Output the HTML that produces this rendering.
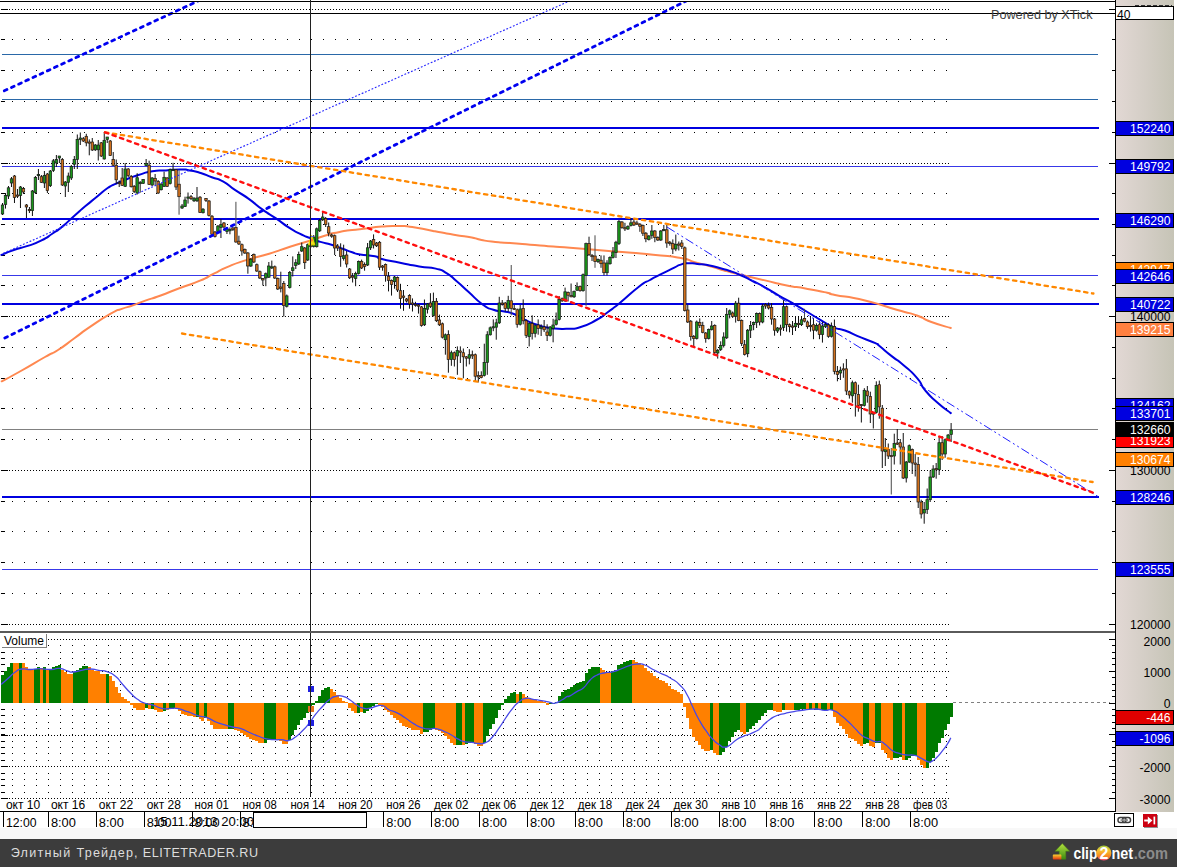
<!DOCTYPE html>
<html><head><meta charset="utf-8"><title>chart</title>
<style>
html,body{margin:0;padding:0;background:#fff;}
body{width:1177px;height:867px;overflow:hidden;font-family:"Liberation Sans",sans-serif;}
svg{display:block;}
text{font-family:"Liberation Sans",sans-serif;}
</style></head><body>
<svg width="1177" height="867" viewBox="0 0 1177 867" shape-rendering="crispEdges">
<rect x="0" y="0" width="1177" height="867" fill="#ffffff"/>
<line x1="12" y1="39.5" x2="951" y2="39.5" stroke="#000" stroke-width="1" stroke-dasharray="1 10.97"/>
<line x1="12" y1="70.5" x2="951" y2="70.5" stroke="#000" stroke-width="1" stroke-dasharray="1 10.97"/>
<line x1="12" y1="101.5" x2="951" y2="101.5" stroke="#000" stroke-width="1" stroke-dasharray="1 10.97"/>
<line x1="12" y1="132.5" x2="951" y2="132.5" stroke="#000" stroke-width="1" stroke-dasharray="1 10.97"/>
<line x1="12" y1="193.5" x2="951" y2="193.5" stroke="#000" stroke-width="1" stroke-dasharray="1 10.97"/>
<line x1="12" y1="224.5" x2="951" y2="224.5" stroke="#000" stroke-width="1" stroke-dasharray="1 10.97"/>
<line x1="12" y1="255.5" x2="951" y2="255.5" stroke="#000" stroke-width="1" stroke-dasharray="1 10.97"/>
<line x1="12" y1="285.5" x2="951" y2="285.5" stroke="#000" stroke-width="1" stroke-dasharray="1 10.97"/>
<line x1="12" y1="347.5" x2="951" y2="347.5" stroke="#000" stroke-width="1" stroke-dasharray="1 10.97"/>
<line x1="12" y1="378.5" x2="951" y2="378.5" stroke="#000" stroke-width="1" stroke-dasharray="1 10.97"/>
<line x1="12" y1="408.5" x2="951" y2="408.5" stroke="#000" stroke-width="1" stroke-dasharray="1 10.97"/>
<line x1="12" y1="439.5" x2="951" y2="439.5" stroke="#000" stroke-width="1" stroke-dasharray="1 10.97"/>
<line x1="12" y1="501.5" x2="951" y2="501.5" stroke="#000" stroke-width="1" stroke-dasharray="1 10.97"/>
<line x1="12" y1="531.5" x2="951" y2="531.5" stroke="#000" stroke-width="1" stroke-dasharray="1 10.97"/>
<line x1="12" y1="562.5" x2="951" y2="562.5" stroke="#000" stroke-width="1" stroke-dasharray="1 10.97"/>
<line x1="12" y1="593.5" x2="951" y2="593.5" stroke="#000" stroke-width="1" stroke-dasharray="1 10.97"/>
<line x1="9" y1="9.5" x2="951" y2="9.5" stroke="#000" stroke-width="1" stroke-dasharray="1 2"/>
<line x1="9" y1="163.5" x2="951" y2="163.5" stroke="#000" stroke-width="1" stroke-dasharray="1 2"/>
<line x1="9" y1="316.5" x2="951" y2="316.5" stroke="#000" stroke-width="1" stroke-dasharray="1 2"/>
<line x1="9" y1="470.5" x2="951" y2="470.5" stroke="#000" stroke-width="1" stroke-dasharray="1 2"/>
<line x1="9" y1="624.5" x2="951" y2="624.5" stroke="#000" stroke-width="1" stroke-dasharray="1 2"/>
<rect x="1" y="39" width="4" height="1" fill="#000"/>
<rect x="1" y="70" width="4" height="1" fill="#000"/>
<rect x="1" y="101" width="4" height="1" fill="#000"/>
<rect x="1" y="132" width="4" height="1" fill="#000"/>
<rect x="1" y="193" width="4" height="1" fill="#000"/>
<rect x="1" y="224" width="4" height="1" fill="#000"/>
<rect x="1" y="255" width="4" height="1" fill="#000"/>
<rect x="1" y="285" width="4" height="1" fill="#000"/>
<rect x="1" y="347" width="4" height="1" fill="#000"/>
<rect x="1" y="378" width="4" height="1" fill="#000"/>
<rect x="1" y="408" width="4" height="1" fill="#000"/>
<rect x="1" y="439" width="4" height="1" fill="#000"/>
<rect x="1" y="501" width="4" height="1" fill="#000"/>
<rect x="1" y="531" width="4" height="1" fill="#000"/>
<rect x="1" y="562" width="4" height="1" fill="#000"/>
<rect x="1" y="593" width="4" height="1" fill="#000"/>
<rect x="1" y="9" width="7" height="1" fill="#000"/>
<rect x="1" y="163" width="7" height="1" fill="#000"/>
<rect x="1" y="316" width="7" height="1" fill="#000"/>
<rect x="1" y="470" width="7" height="1" fill="#000"/>
<rect x="1" y="624" width="7" height="1" fill="#000"/>
<line x1="12" y1="645.5" x2="951" y2="645.5" stroke="#000" stroke-width="1" stroke-dasharray="1 10.97"/>
<rect x="1" y="645" width="4" height="1" fill="#000"/>
<line x1="12" y1="652.5" x2="951" y2="652.5" stroke="#000" stroke-width="1" stroke-dasharray="1 10.97"/>
<rect x="1" y="652" width="4" height="1" fill="#000"/>
<line x1="12" y1="658.5" x2="951" y2="658.5" stroke="#000" stroke-width="1" stroke-dasharray="1 10.97"/>
<rect x="1" y="658" width="4" height="1" fill="#000"/>
<line x1="12" y1="664.5" x2="951" y2="664.5" stroke="#000" stroke-width="1" stroke-dasharray="1 10.97"/>
<rect x="1" y="664" width="4" height="1" fill="#000"/>
<line x1="12" y1="677.5" x2="951" y2="677.5" stroke="#000" stroke-width="1" stroke-dasharray="1 10.97"/>
<rect x="1" y="677" width="4" height="1" fill="#000"/>
<line x1="12" y1="684.5" x2="951" y2="684.5" stroke="#000" stroke-width="1" stroke-dasharray="1 10.97"/>
<rect x="1" y="684" width="4" height="1" fill="#000"/>
<line x1="12" y1="690.5" x2="951" y2="690.5" stroke="#000" stroke-width="1" stroke-dasharray="1 10.97"/>
<rect x="1" y="690" width="4" height="1" fill="#000"/>
<line x1="12" y1="696.5" x2="951" y2="696.5" stroke="#000" stroke-width="1" stroke-dasharray="1 10.97"/>
<rect x="1" y="696" width="4" height="1" fill="#000"/>
<line x1="12" y1="709.5" x2="951" y2="709.5" stroke="#000" stroke-width="1" stroke-dasharray="1 10.97"/>
<rect x="1" y="709" width="4" height="1" fill="#000"/>
<line x1="12" y1="715.5" x2="951" y2="715.5" stroke="#000" stroke-width="1" stroke-dasharray="1 10.97"/>
<rect x="1" y="715" width="4" height="1" fill="#000"/>
<line x1="12" y1="722.5" x2="951" y2="722.5" stroke="#000" stroke-width="1" stroke-dasharray="1 10.97"/>
<rect x="1" y="722" width="4" height="1" fill="#000"/>
<line x1="12" y1="728.5" x2="951" y2="728.5" stroke="#000" stroke-width="1" stroke-dasharray="1 10.97"/>
<rect x="1" y="728" width="4" height="1" fill="#000"/>
<line x1="12" y1="734.5" x2="951" y2="734.5" stroke="#000" stroke-width="1" stroke-dasharray="1 10.97"/>
<rect x="1" y="734" width="4" height="1" fill="#000"/>
<line x1="12" y1="741.5" x2="951" y2="741.5" stroke="#000" stroke-width="1" stroke-dasharray="1 10.97"/>
<rect x="1" y="741" width="4" height="1" fill="#000"/>
<line x1="12" y1="747.5" x2="951" y2="747.5" stroke="#000" stroke-width="1" stroke-dasharray="1 10.97"/>
<rect x="1" y="747" width="4" height="1" fill="#000"/>
<line x1="12" y1="753.5" x2="951" y2="753.5" stroke="#000" stroke-width="1" stroke-dasharray="1 10.97"/>
<rect x="1" y="753" width="4" height="1" fill="#000"/>
<line x1="12" y1="760.5" x2="951" y2="760.5" stroke="#000" stroke-width="1" stroke-dasharray="1 10.97"/>
<rect x="1" y="760" width="4" height="1" fill="#000"/>
<line x1="12" y1="773.5" x2="951" y2="773.5" stroke="#000" stroke-width="1" stroke-dasharray="1 10.97"/>
<rect x="1" y="773" width="4" height="1" fill="#000"/>
<line x1="12" y1="779.5" x2="951" y2="779.5" stroke="#000" stroke-width="1" stroke-dasharray="1 10.97"/>
<rect x="1" y="779" width="4" height="1" fill="#000"/>
<line x1="12" y1="785.5" x2="951" y2="785.5" stroke="#000" stroke-width="1" stroke-dasharray="1 10.97"/>
<rect x="1" y="785" width="4" height="1" fill="#000"/>
<line x1="12" y1="792.5" x2="951" y2="792.5" stroke="#000" stroke-width="1" stroke-dasharray="1 10.97"/>
<rect x="1" y="792" width="4" height="1" fill="#000"/>
<line x1="9" y1="639.5" x2="951" y2="639.5" stroke="#000" stroke-width="1" stroke-dasharray="1 2"/>
<rect x="1" y="639" width="7" height="1" fill="#000"/>
<line x1="9" y1="671.5" x2="951" y2="671.5" stroke="#000" stroke-width="1" stroke-dasharray="1 2"/>
<rect x="1" y="671" width="7" height="1" fill="#000"/>
<line x1="9" y1="735.5" x2="951" y2="735.5" stroke="#000" stroke-width="1" stroke-dasharray="1 2"/>
<rect x="1" y="735" width="7" height="1" fill="#000"/>
<line x1="9" y1="766.5" x2="951" y2="766.5" stroke="#000" stroke-width="1" stroke-dasharray="1 2"/>
<rect x="1" y="766" width="7" height="1" fill="#000"/>
<line x1="9" y1="798.5" x2="951" y2="798.5" stroke="#000" stroke-width="1" stroke-dasharray="1 2"/>
<rect x="1" y="798" width="7" height="1" fill="#000"/>
<rect x="2" y="54" width="1096" height="1" fill="#2a68a8"/>
<rect x="2" y="99" width="1096" height="1" fill="#2a68a8"/>
<rect x="2" y="127" width="1097" height="2" fill="#0000e0"/>
<rect x="2" y="166" width="1096" height="1" fill="#3838e8"/>
<rect x="2" y="218" width="1097" height="2" fill="#0000e0"/>
<rect x="2" y="275" width="1096" height="1" fill="#3838e8"/>
<rect x="2" y="303" width="1097" height="2" fill="#0000e0"/>
<rect x="2" y="429" width="1096" height="1" fill="#808080"/>
<rect x="2" y="496" width="1097" height="2" fill="#0000e0"/>
<rect x="2" y="569" width="1096" height="1" fill="#3838e8"/>
<path d="M1.7 381.3 C8.1 377.9 6.4 379.1 20.8 371.0 C35.2 362.9 32.6 364.0 45.0 357.0 C57.4 350.0 48.1 356.3 58.0 350.0 C67.9 343.7 64.0 345.7 74.7 338.0 C85.4 330.3 78.0 335.0 90.0 326.9 C102.0 318.8 100.1 319.7 110.7 313.7 C121.3 307.7 114.4 311.7 121.8 308.9 C129.2 306.1 125.1 308.2 132.9 305.4 C140.7 302.6 136.3 303.8 145.3 300.6 C154.3 297.4 148.4 299.9 160.0 295.7 C171.6 291.5 166.7 293.0 180.0 288.0 C193.3 283.0 188.7 285.5 200.0 280.7 C211.3 275.9 204.6 278.3 213.8 273.7 C223.0 269.1 216.6 271.4 227.7 266.8 C238.8 262.2 233.2 264.3 247.0 259.9 C260.8 255.5 254.9 258.1 269.2 253.7 C283.5 249.3 276.2 251.1 290.0 246.7 C303.8 242.3 299.2 244.2 310.7 240.5 C322.2 236.8 315.4 238.5 324.6 235.7 C333.8 232.9 329.2 234.1 338.4 232.2 C347.6 230.3 343.7 231.1 352.2 230.0 C360.7 228.9 353.9 229.9 363.8 228.8 C373.7 227.7 370.3 227.5 381.8 226.6 C393.3 225.7 388.2 225.9 398.4 226.0 C408.6 226.1 400.8 225.3 412.3 227.0 C423.8 228.7 419.2 228.4 433.0 231.0 C446.8 233.6 440.9 232.5 453.8 234.7 C466.7 236.9 462.6 235.7 471.8 237.5 C481.0 239.3 473.7 238.5 481.5 240.0 C489.3 241.5 485.8 241.0 495.3 242.0 C504.8 243.0 495.1 241.8 510.0 243.0 C524.9 244.2 520.0 244.0 540.0 245.6 C560.0 247.2 546.2 245.9 570.0 247.8 C593.8 249.7 583.8 248.9 611.5 251.2 C639.2 253.5 629.9 252.4 653.0 254.7 C676.1 257.0 666.8 255.5 680.7 258.0 C694.6 260.5 685.4 259.7 694.6 262.3 C703.8 264.9 699.2 263.1 708.4 265.7 C717.6 268.3 715.0 267.9 722.2 270.0 C729.4 272.1 722.7 270.2 730.0 272.0 C737.3 273.8 732.5 272.7 744.2 275.5 C755.9 278.3 751.2 277.2 765.0 280.4 C778.8 283.6 771.9 282.4 785.7 285.2 C799.5 288.0 792.7 286.2 806.5 288.7 C820.3 291.2 817.7 290.7 827.2 292.8 C836.7 294.9 822.4 292.4 835.0 295.0 C847.6 297.6 844.2 295.5 865.0 300.5 C885.8 305.5 880.2 305.0 897.5 310.0 C914.8 315.0 905.8 311.6 916.9 315.5 C928.0 319.4 919.4 317.6 930.7 321.8 C942.0 326.0 944.1 325.9 950.8 328.0" fill="none" stroke="#ff8850" stroke-width="2.0" stroke-linejoin="round" stroke-linecap="round" style="shape-rendering:auto"/>
<path d="M1.4 254.9 C5.5 253.3 5.0 253.0 13.8 250.0 C22.6 247.0 18.5 249.1 27.7 245.9 C36.9 242.7 33.2 244.5 41.5 240.4 C49.8 236.3 45.7 238.1 52.6 233.5 C59.5 228.9 54.9 232.6 62.3 226.6 C69.7 220.6 66.9 222.4 74.7 215.5 C82.5 208.6 78.4 212.0 85.8 205.8 C93.2 199.6 89.5 202.8 96.9 196.8 C104.3 190.8 102.0 192.0 108.0 187.8 C114.0 183.6 109.4 186.8 114.9 184.2 C120.4 181.6 116.8 183.1 124.6 180.0 C132.4 176.9 129.2 177.9 138.4 175.0 C147.6 172.1 143.1 172.8 152.3 171.3 C161.5 169.8 156.8 171.0 166.0 170.4 C175.2 169.8 172.1 169.4 180.0 169.4 C187.9 169.4 182.8 169.2 189.7 170.4 C196.6 171.6 193.3 170.7 200.7 173.0 C208.1 175.3 204.4 174.5 211.8 177.3 C219.2 180.1 215.1 177.1 222.9 181.4 C230.7 185.7 226.8 184.5 235.3 190.2 C243.8 195.9 239.4 192.2 248.4 198.6 C257.4 205.0 253.1 202.8 262.3 209.4 C271.5 216.0 267.2 212.4 276.0 218.4 C284.8 224.4 280.7 222.3 288.6 227.4 C296.5 232.5 292.3 229.9 299.7 233.6 C307.1 237.3 303.8 235.6 310.7 238.4 C317.6 241.2 313.5 239.8 320.4 241.9 C327.3 244.0 324.1 242.4 331.5 244.7 C338.9 247.0 335.7 246.3 342.6 248.8 C349.5 251.3 346.4 250.4 352.2 252.3 C358.0 254.2 352.4 253.1 360.0 254.4 C367.6 255.7 367.7 254.8 375.0 256.3 C382.3 257.8 373.5 256.8 381.8 259.0 C390.1 261.2 387.5 260.3 400.0 262.8 C412.5 265.3 407.3 264.6 419.2 266.5 C431.1 268.4 426.6 266.3 435.8 268.6 C445.0 270.9 439.8 269.1 446.9 273.4 C454.0 277.7 449.8 275.4 457.0 281.5 C464.2 287.6 460.0 284.2 468.4 291.8 C476.8 299.4 474.0 298.2 482.3 304.2 C490.6 310.2 486.5 307.4 493.4 309.8 C500.3 312.2 496.1 309.9 503.0 311.3 C509.9 312.7 506.6 311.1 514.0 314.0 C521.4 316.9 517.3 316.3 525.2 320.0 C533.1 323.7 529.8 322.4 537.6 325.0 C545.4 327.6 541.8 326.6 548.7 327.8 C555.6 329.0 552.0 328.4 558.4 328.7 C564.8 329.0 560.8 329.2 568.0 328.7 C575.2 328.2 570.6 330.2 580.0 327.3 C589.4 324.4 587.0 325.1 596.3 320.0 C605.6 314.9 600.2 317.7 608.0 312.0 C615.8 306.3 609.4 311.5 619.8 303.0 C630.2 294.5 629.1 294.2 639.2 286.5 C649.3 278.8 643.1 283.9 650.0 280.0 C656.9 276.1 652.1 278.8 660.0 274.7 C667.9 270.6 666.9 271.2 673.8 267.8 C680.7 264.4 676.1 266.1 680.7 264.6 C685.3 263.1 682.1 263.4 687.6 263.2 C693.1 263.0 690.4 263.3 697.3 264.0 C704.2 264.7 700.1 263.7 708.4 265.3 C716.7 266.9 715.0 266.9 722.2 268.8 C729.4 270.7 723.6 268.8 730.0 271.0 C736.4 273.2 733.9 272.2 741.4 275.5 C748.9 278.8 744.6 277.1 752.5 281.0 C760.4 284.9 756.2 282.4 765.0 287.3 C773.8 292.2 769.6 290.3 778.8 295.6 C788.0 300.9 783.4 297.9 792.6 303.2 C801.8 308.5 797.3 306.0 806.5 311.5 C815.7 317.0 811.2 314.5 820.3 319.8 C829.4 325.1 825.6 323.7 833.8 327.3 C842.0 330.9 835.8 327.0 845.0 330.5 C854.2 334.0 851.4 333.5 861.5 337.7 C871.6 341.9 869.4 340.4 875.4 343.2 C881.4 346.0 874.0 341.6 879.5 346.0 C885.0 350.4 884.2 350.2 892.0 356.4 C899.8 362.6 894.7 357.6 903.0 364.7 C911.3 371.8 909.5 369.3 916.9 377.8 C924.3 386.3 918.3 382.0 925.2 390.3 C932.1 398.6 929.1 395.1 937.6 402.7 C946.1 410.3 946.4 409.6 950.8 413.1" fill="none" stroke="#0000e0" stroke-width="2.0" stroke-linejoin="round" stroke-linecap="round" style="shape-rendering:auto"/>
<g style="shape-rendering:auto">
<line x1="2.50" y1="203.0" x2="2.50" y2="215.0" stroke="#101010" stroke-width="1"/>
<rect x="1.25" y="205.0" width="2.5" height="9.0" fill="#1a961a" stroke="#181818" stroke-width="0.7"/>
<line x1="5.49" y1="193.0" x2="5.49" y2="208.6" stroke="#101010" stroke-width="1"/>
<rect x="4.24" y="195.4" width="2.5" height="9.0" fill="#1a961a" stroke="#181818" stroke-width="0.7"/>
<line x1="8.48" y1="186.0" x2="8.48" y2="199.0" stroke="#101010" stroke-width="1"/>
<rect x="7.23" y="187.8" width="2.5" height="8.2" fill="#1a961a" stroke="#181818" stroke-width="0.7"/>
<line x1="11.48" y1="177.0" x2="11.48" y2="187.0" stroke="#101010" stroke-width="1"/>
<rect x="10.23" y="178.8" width="2.5" height="4.2" fill="#1a961a" stroke="#181818" stroke-width="0.7"/>
<line x1="14.47" y1="175.0" x2="14.47" y2="203.0" stroke="#101010" stroke-width="1"/>
<rect x="13.22" y="176.0" width="2.5" height="21.5" fill="#d0701c" stroke="#181818" stroke-width="0.7"/>
<line x1="17.46" y1="189.0" x2="17.46" y2="198.0" stroke="#101010" stroke-width="1"/>
<rect x="16.21" y="195.0" width="2.5" height="1.2" fill="#d0701c" stroke="#181818" stroke-width="0.7"/>
<line x1="20.46" y1="186.0" x2="20.46" y2="208.0" stroke="#101010" stroke-width="1"/>
<rect x="19.21" y="187.0" width="2.5" height="8.4" fill="#1a961a" stroke="#181818" stroke-width="0.7"/>
<line x1="23.45" y1="187.0" x2="23.45" y2="194.0" stroke="#101010" stroke-width="1"/>
<rect x="22.20" y="188.5" width="2.5" height="3.5" fill="#d0701c" stroke="#181818" stroke-width="0.7"/>
<line x1="26.44" y1="204.0" x2="26.44" y2="218.0" stroke="#101010" stroke-width="1"/>
<rect x="25.19" y="205.0" width="2.5" height="2.0" fill="#d0701c" stroke="#181818" stroke-width="0.7"/>
<line x1="29.43" y1="207.0" x2="29.43" y2="213.0" stroke="#101010" stroke-width="1"/>
<rect x="28.18" y="209.5" width="2.5" height="1.2" fill="#d0701c" stroke="#181818" stroke-width="0.7"/>
<line x1="32.42" y1="190.0" x2="32.42" y2="216.0" stroke="#101010" stroke-width="1"/>
<rect x="31.17" y="191.0" width="2.5" height="19.6" fill="#1a961a" stroke="#181818" stroke-width="0.7"/>
<line x1="35.42" y1="176.0" x2="35.42" y2="194.0" stroke="#101010" stroke-width="1"/>
<rect x="34.17" y="177.4" width="2.5" height="15.2" fill="#1a961a" stroke="#181818" stroke-width="0.7"/>
<line x1="38.41" y1="169.0" x2="38.41" y2="180.0" stroke="#101010" stroke-width="1"/>
<rect x="37.16" y="174.5" width="2.5" height="1.2" fill="#1a961a" stroke="#181818" stroke-width="0.7"/>
<line x1="41.40" y1="175.0" x2="41.40" y2="183.0" stroke="#101010" stroke-width="1"/>
<rect x="40.15" y="176.7" width="2.5" height="5.6" fill="#d0701c" stroke="#181818" stroke-width="0.7"/>
<line x1="44.40" y1="171.0" x2="44.40" y2="188.0" stroke="#101010" stroke-width="1"/>
<rect x="43.15" y="175.4" width="2.5" height="7.6" fill="#1a961a" stroke="#181818" stroke-width="0.7"/>
<line x1="47.39" y1="173.0" x2="47.39" y2="193.0" stroke="#101010" stroke-width="1"/>
<rect x="46.14" y="174.0" width="2.5" height="16.6" fill="#d0701c" stroke="#181818" stroke-width="0.7"/>
<line x1="50.38" y1="170.0" x2="50.38" y2="187.0" stroke="#101010" stroke-width="1"/>
<rect x="49.13" y="171.0" width="2.5" height="14.7" fill="#1a961a" stroke="#181818" stroke-width="0.7"/>
<line x1="53.37" y1="159.0" x2="53.37" y2="172.0" stroke="#101010" stroke-width="1"/>
<rect x="52.12" y="160.8" width="2.5" height="9.7" fill="#1a961a" stroke="#181818" stroke-width="0.7"/>
<line x1="56.37" y1="155.0" x2="56.37" y2="167.0" stroke="#101010" stroke-width="1"/>
<rect x="55.12" y="159.4" width="2.5" height="3.6" fill="#1a961a" stroke="#181818" stroke-width="0.7"/>
<line x1="59.36" y1="156.0" x2="59.36" y2="163.0" stroke="#101010" stroke-width="1"/>
<rect x="58.11" y="156.0" width="2.5" height="2.0" fill="#1a961a" stroke="#181818" stroke-width="0.7"/>
<line x1="62.35" y1="158.0" x2="62.35" y2="186.0" stroke="#101010" stroke-width="1"/>
<rect x="61.10" y="159.4" width="2.5" height="25.6" fill="#d0701c" stroke="#181818" stroke-width="0.7"/>
<line x1="65.34" y1="181.0" x2="65.34" y2="197.0" stroke="#101010" stroke-width="1"/>
<rect x="64.09" y="182.0" width="2.5" height="4.0" fill="#1a961a" stroke="#181818" stroke-width="0.7"/>
<line x1="68.34" y1="172.6" x2="68.34" y2="192.0" stroke="#101010" stroke-width="1"/>
<rect x="67.09" y="176.0" width="2.5" height="6.3" fill="#1a961a" stroke="#181818" stroke-width="0.7"/>
<line x1="71.33" y1="165.0" x2="71.33" y2="180.0" stroke="#101010" stroke-width="1"/>
<rect x="70.08" y="166.4" width="2.5" height="11.6" fill="#1a961a" stroke="#181818" stroke-width="0.7"/>
<line x1="74.32" y1="156.0" x2="74.32" y2="169.0" stroke="#101010" stroke-width="1"/>
<rect x="73.07" y="159.4" width="2.5" height="4.9" fill="#1a961a" stroke="#181818" stroke-width="0.7"/>
<line x1="77.31" y1="134.5" x2="77.31" y2="169.0" stroke="#101010" stroke-width="1"/>
<rect x="76.06" y="139.4" width="2.5" height="20.0" fill="#1a961a" stroke="#181818" stroke-width="0.7"/>
<line x1="80.31" y1="132.5" x2="80.31" y2="145.0" stroke="#101010" stroke-width="1"/>
<rect x="79.06" y="138.0" width="2.5" height="1.5" fill="#1a961a" stroke="#181818" stroke-width="0.7"/>
<line x1="83.30" y1="137.0" x2="83.30" y2="142.0" stroke="#101010" stroke-width="1"/>
<rect x="82.05" y="138.7" width="2.5" height="2.3" fill="#d0701c" stroke="#181818" stroke-width="0.7"/>
<line x1="86.29" y1="133.8" x2="86.29" y2="146.3" stroke="#101010" stroke-width="1"/>
<rect x="85.04" y="136.3" width="2.5" height="6.5" fill="#d0701c" stroke="#181818" stroke-width="0.7"/>
<line x1="89.28" y1="139.4" x2="89.28" y2="155.3" stroke="#101010" stroke-width="1"/>
<rect x="88.03" y="142.0" width="2.5" height="1.2" fill="#d0701c" stroke="#181818" stroke-width="0.7"/>
<line x1="92.28" y1="138.0" x2="92.28" y2="151.0" stroke="#101010" stroke-width="1"/>
<rect x="91.03" y="142.0" width="2.5" height="8.0" fill="#d0701c" stroke="#181818" stroke-width="0.7"/>
<line x1="95.27" y1="144.0" x2="95.27" y2="151.0" stroke="#101010" stroke-width="1"/>
<rect x="94.02" y="145.0" width="2.5" height="4.8" fill="#1a961a" stroke="#181818" stroke-width="0.7"/>
<line x1="98.26" y1="140.0" x2="98.26" y2="160.5" stroke="#101010" stroke-width="1"/>
<rect x="97.01" y="145.0" width="2.5" height="4.8" fill="#1a961a" stroke="#181818" stroke-width="0.7"/>
<line x1="101.25" y1="142.0" x2="101.25" y2="157.0" stroke="#101010" stroke-width="1"/>
<rect x="100.00" y="142.8" width="2.5" height="13.2" fill="#d0701c" stroke="#181818" stroke-width="0.7"/>
<line x1="104.25" y1="132.0" x2="104.25" y2="159.5" stroke="#101010" stroke-width="1"/>
<rect x="103.00" y="140.3" width="2.5" height="18.7" fill="#1a961a" stroke="#181818" stroke-width="0.7"/>
<line x1="107.24" y1="137.0" x2="107.24" y2="143.0" stroke="#101010" stroke-width="1"/>
<rect x="105.99" y="137.0" width="2.5" height="2.5" fill="#1a961a" stroke="#181818" stroke-width="0.7"/>
<line x1="110.23" y1="140.0" x2="110.23" y2="156.0" stroke="#101010" stroke-width="1"/>
<rect x="108.98" y="141.0" width="2.5" height="14.5" fill="#d0701c" stroke="#181818" stroke-width="0.7"/>
<line x1="113.22" y1="152.0" x2="113.22" y2="166.0" stroke="#101010" stroke-width="1"/>
<rect x="111.97" y="159.4" width="2.5" height="5.9" fill="#d0701c" stroke="#181818" stroke-width="0.7"/>
<line x1="116.22" y1="159.5" x2="116.22" y2="184.0" stroke="#101010" stroke-width="1"/>
<rect x="114.97" y="165.3" width="2.5" height="14.5" fill="#d0701c" stroke="#181818" stroke-width="0.7"/>
<line x1="119.21" y1="180.5" x2="119.21" y2="187.0" stroke="#101010" stroke-width="1"/>
<rect x="117.96" y="182.5" width="2.5" height="1.2" fill="#d0701c" stroke="#181818" stroke-width="0.7"/>
<line x1="122.20" y1="168.0" x2="122.20" y2="186.0" stroke="#101010" stroke-width="1"/>
<rect x="120.95" y="178.0" width="2.5" height="7.3" fill="#d0701c" stroke="#181818" stroke-width="0.7"/>
<line x1="125.19" y1="163.0" x2="125.19" y2="187.0" stroke="#101010" stroke-width="1"/>
<rect x="123.94" y="169.0" width="2.5" height="17.3" fill="#1a961a" stroke="#181818" stroke-width="0.7"/>
<line x1="128.19" y1="168.0" x2="128.19" y2="177.0" stroke="#101010" stroke-width="1"/>
<rect x="126.94" y="169.0" width="2.5" height="6.6" fill="#d0701c" stroke="#181818" stroke-width="0.7"/>
<line x1="131.18" y1="175.0" x2="131.18" y2="187.5" stroke="#101010" stroke-width="1"/>
<rect x="129.93" y="176.3" width="2.5" height="10.4" fill="#d0701c" stroke="#181818" stroke-width="0.7"/>
<line x1="134.17" y1="185.0" x2="134.17" y2="193.0" stroke="#101010" stroke-width="1"/>
<rect x="132.92" y="186.3" width="2.5" height="5.2" fill="#d0701c" stroke="#181818" stroke-width="0.7"/>
<line x1="137.16" y1="173.2" x2="137.16" y2="194.5" stroke="#101010" stroke-width="1"/>
<rect x="135.91" y="177.7" width="2.5" height="15.3" fill="#1a961a" stroke="#181818" stroke-width="0.7"/>
<line x1="140.16" y1="181.0" x2="140.16" y2="192.7" stroke="#101010" stroke-width="1"/>
<rect x="138.91" y="182.5" width="2.5" height="1.2" fill="#1a961a" stroke="#181818" stroke-width="0.7"/>
<line x1="143.15" y1="179.0" x2="143.15" y2="184.0" stroke="#101010" stroke-width="1"/>
<rect x="141.90" y="179.5" width="2.5" height="3.8" fill="#1a961a" stroke="#181818" stroke-width="0.7"/>
<line x1="146.14" y1="159.0" x2="146.14" y2="166.0" stroke="#101010" stroke-width="1"/>
<rect x="144.89" y="163.5" width="2.5" height="2.0" fill="#1a961a" stroke="#181818" stroke-width="0.7"/>
<line x1="149.13" y1="160.7" x2="149.13" y2="185.0" stroke="#101010" stroke-width="1"/>
<rect x="147.88" y="165.2" width="2.5" height="19.1" fill="#d0701c" stroke="#181818" stroke-width="0.7"/>
<line x1="152.12" y1="177.0" x2="152.12" y2="186.0" stroke="#101010" stroke-width="1"/>
<rect x="150.88" y="178.0" width="2.5" height="7.0" fill="#1a961a" stroke="#181818" stroke-width="0.7"/>
<line x1="155.12" y1="174.0" x2="155.12" y2="185.6" stroke="#101010" stroke-width="1"/>
<rect x="153.87" y="178.5" width="2.5" height="2.5" fill="#d0701c" stroke="#181818" stroke-width="0.7"/>
<line x1="158.11" y1="180.0" x2="158.11" y2="194.0" stroke="#101010" stroke-width="1"/>
<rect x="156.86" y="181.5" width="2.5" height="11.5" fill="#d0701c" stroke="#181818" stroke-width="0.7"/>
<line x1="161.10" y1="183.0" x2="161.10" y2="190.5" stroke="#101010" stroke-width="1"/>
<rect x="159.85" y="184.2" width="2.5" height="5.5" fill="#1a961a" stroke="#181818" stroke-width="0.7"/>
<line x1="164.09" y1="171.7" x2="164.09" y2="187.0" stroke="#101010" stroke-width="1"/>
<rect x="162.84" y="177.3" width="2.5" height="9.0" fill="#1a961a" stroke="#181818" stroke-width="0.7"/>
<line x1="167.09" y1="177.0" x2="167.09" y2="187.0" stroke="#101010" stroke-width="1"/>
<rect x="165.84" y="178.0" width="2.5" height="8.3" fill="#d0701c" stroke="#181818" stroke-width="0.7"/>
<line x1="170.08" y1="168.5" x2="170.08" y2="184.5" stroke="#101010" stroke-width="1"/>
<rect x="168.83" y="169.7" width="2.5" height="13.8" fill="#1a961a" stroke="#181818" stroke-width="0.7"/>
<line x1="173.07" y1="162.8" x2="173.07" y2="171.0" stroke="#101010" stroke-width="1"/>
<rect x="171.82" y="169.5" width="2.5" height="1.2" fill="#1a961a" stroke="#181818" stroke-width="0.7"/>
<line x1="176.06" y1="169.0" x2="176.06" y2="190.0" stroke="#101010" stroke-width="1"/>
<rect x="174.81" y="169.7" width="2.5" height="17.3" fill="#d0701c" stroke="#181818" stroke-width="0.7"/>
<line x1="179.06" y1="170.4" x2="179.06" y2="214.7" stroke="#484848" stroke-width="1"/>
<rect x="177.81" y="184.2" width="2.5" height="12.5" fill="#d0701c" stroke="#181818" stroke-width="0.7"/>
<line x1="182.05" y1="204.0" x2="182.05" y2="209.0" stroke="#101010" stroke-width="1"/>
<rect x="180.80" y="206.0" width="2.5" height="2.0" fill="#1a961a" stroke="#181818" stroke-width="0.7"/>
<line x1="185.04" y1="196.7" x2="185.04" y2="207.0" stroke="#101010" stroke-width="1"/>
<rect x="183.79" y="200.0" width="2.5" height="6.4" fill="#1a961a" stroke="#181818" stroke-width="0.7"/>
<line x1="188.03" y1="192.5" x2="188.03" y2="203.6" stroke="#101010" stroke-width="1"/>
<rect x="186.78" y="197.0" width="2.5" height="1.2" fill="#1a961a" stroke="#181818" stroke-width="0.7"/>
<line x1="191.03" y1="195.0" x2="191.03" y2="200.0" stroke="#101010" stroke-width="1"/>
<rect x="189.78" y="196.7" width="2.5" height="2.0" fill="#d0701c" stroke="#181818" stroke-width="0.7"/>
<line x1="194.02" y1="197.0" x2="194.02" y2="202.0" stroke="#101010" stroke-width="1"/>
<rect x="192.77" y="198.7" width="2.5" height="2.1" fill="#1a961a" stroke="#181818" stroke-width="0.7"/>
<line x1="197.01" y1="187.0" x2="197.01" y2="202.0" stroke="#101010" stroke-width="1"/>
<rect x="195.76" y="198.0" width="2.5" height="2.8" fill="#1a961a" stroke="#181818" stroke-width="0.7"/>
<line x1="200.01" y1="196.0" x2="200.01" y2="213.0" stroke="#101010" stroke-width="1"/>
<rect x="198.76" y="197.2" width="2.5" height="15.3" fill="#d0701c" stroke="#181818" stroke-width="0.7"/>
<line x1="203.00" y1="208.0" x2="203.00" y2="213.5" stroke="#101010" stroke-width="1"/>
<rect x="201.75" y="209.2" width="2.5" height="3.5" fill="#1a961a" stroke="#181818" stroke-width="0.7"/>
<line x1="205.99" y1="198.0" x2="205.99" y2="202.0" stroke="#101010" stroke-width="1"/>
<rect x="204.74" y="198.5" width="2.5" height="2.0" fill="#d0701c" stroke="#181818" stroke-width="0.7"/>
<line x1="208.98" y1="200.0" x2="208.98" y2="216.5" stroke="#101010" stroke-width="1"/>
<rect x="207.73" y="201.0" width="2.5" height="14.6" fill="#d0701c" stroke="#181818" stroke-width="0.7"/>
<line x1="211.98" y1="215.0" x2="211.98" y2="235.0" stroke="#101010" stroke-width="1"/>
<rect x="210.73" y="216.2" width="2.5" height="18.0" fill="#d0701c" stroke="#181818" stroke-width="0.7"/>
<line x1="214.97" y1="231.0" x2="214.97" y2="237.5" stroke="#101010" stroke-width="1"/>
<rect x="213.72" y="232.0" width="2.5" height="4.4" fill="#d0701c" stroke="#181818" stroke-width="0.7"/>
<line x1="217.96" y1="225.0" x2="217.96" y2="232.5" stroke="#101010" stroke-width="1"/>
<rect x="216.71" y="226.0" width="2.5" height="5.5" fill="#1a961a" stroke="#181818" stroke-width="0.7"/>
<line x1="220.95" y1="219.0" x2="220.95" y2="238.0" stroke="#101010" stroke-width="1"/>
<rect x="219.70" y="224.6" width="2.5" height="2.8" fill="#1a961a" stroke="#181818" stroke-width="0.7"/>
<line x1="223.95" y1="222.0" x2="223.95" y2="228.0" stroke="#101010" stroke-width="1"/>
<rect x="222.70" y="223.0" width="2.5" height="4.0" fill="#d0701c" stroke="#181818" stroke-width="0.7"/>
<line x1="226.94" y1="227.5" x2="226.94" y2="234.0" stroke="#101010" stroke-width="1"/>
<rect x="225.69" y="228.8" width="2.5" height="2.7" fill="#1a961a" stroke="#181818" stroke-width="0.7"/>
<line x1="229.93" y1="227.4" x2="229.93" y2="234.3" stroke="#101010" stroke-width="1"/>
<rect x="228.68" y="229.5" width="2.5" height="1.3" fill="#1a961a" stroke="#181818" stroke-width="0.7"/>
<line x1="232.92" y1="227.0" x2="232.92" y2="231.0" stroke="#101010" stroke-width="1"/>
<rect x="231.67" y="228.0" width="2.5" height="1.5" fill="#d0701c" stroke="#181818" stroke-width="0.7"/>
<line x1="235.92" y1="201.8" x2="235.92" y2="243.0" stroke="#484848" stroke-width="1"/>
<rect x="234.67" y="227.4" width="2.5" height="14.6" fill="#d0701c" stroke="#181818" stroke-width="0.7"/>
<line x1="238.91" y1="235.7" x2="238.91" y2="245.0" stroke="#101010" stroke-width="1"/>
<rect x="237.66" y="241.2" width="2.5" height="2.8" fill="#d0701c" stroke="#181818" stroke-width="0.7"/>
<line x1="241.90" y1="243.5" x2="241.90" y2="255.7" stroke="#101010" stroke-width="1"/>
<rect x="240.65" y="244.7" width="2.5" height="6.3" fill="#d0701c" stroke="#181818" stroke-width="0.7"/>
<line x1="244.89" y1="248.5" x2="244.89" y2="254.0" stroke="#101010" stroke-width="1"/>
<rect x="243.64" y="249.5" width="2.5" height="3.5" fill="#d0701c" stroke="#181818" stroke-width="0.7"/>
<line x1="247.89" y1="252.0" x2="247.89" y2="273.7" stroke="#101010" stroke-width="1"/>
<rect x="246.64" y="253.0" width="2.5" height="13.0" fill="#d0701c" stroke="#181818" stroke-width="0.7"/>
<line x1="250.88" y1="258.0" x2="250.88" y2="267.0" stroke="#101010" stroke-width="1"/>
<rect x="249.63" y="259.2" width="2.5" height="6.8" fill="#1a961a" stroke="#181818" stroke-width="0.7"/>
<line x1="253.87" y1="253.5" x2="253.87" y2="263.0" stroke="#101010" stroke-width="1"/>
<rect x="252.62" y="254.4" width="2.5" height="7.6" fill="#d0701c" stroke="#181818" stroke-width="0.7"/>
<line x1="256.86" y1="263.5" x2="256.86" y2="272.0" stroke="#101010" stroke-width="1"/>
<rect x="255.61" y="264.7" width="2.5" height="6.3" fill="#d0701c" stroke="#181818" stroke-width="0.7"/>
<line x1="259.86" y1="270.5" x2="259.86" y2="279.0" stroke="#101010" stroke-width="1"/>
<rect x="258.61" y="271.7" width="2.5" height="6.3" fill="#d0701c" stroke="#181818" stroke-width="0.7"/>
<line x1="262.85" y1="278.0" x2="262.85" y2="285.5" stroke="#101010" stroke-width="1"/>
<rect x="261.60" y="278.6" width="2.5" height="1.4" fill="#d0701c" stroke="#181818" stroke-width="0.7"/>
<line x1="265.84" y1="272.5" x2="265.84" y2="286.2" stroke="#101010" stroke-width="1"/>
<rect x="264.59" y="273.7" width="2.5" height="4.3" fill="#1a961a" stroke="#181818" stroke-width="0.7"/>
<line x1="268.83" y1="262.0" x2="268.83" y2="278.0" stroke="#101010" stroke-width="1"/>
<rect x="267.58" y="266.0" width="2.5" height="11.2" fill="#1a961a" stroke="#181818" stroke-width="0.7"/>
<line x1="271.82" y1="260.6" x2="271.82" y2="269.0" stroke="#101010" stroke-width="1"/>
<rect x="270.57" y="266.8" width="2.5" height="1.2" fill="#1a961a" stroke="#181818" stroke-width="0.7"/>
<line x1="274.82" y1="265.5" x2="274.82" y2="279.0" stroke="#101010" stroke-width="1"/>
<rect x="273.57" y="266.8" width="2.5" height="11.2" fill="#d0701c" stroke="#181818" stroke-width="0.7"/>
<line x1="277.81" y1="277.5" x2="277.81" y2="290.0" stroke="#101010" stroke-width="1"/>
<rect x="276.56" y="278.6" width="2.5" height="10.4" fill="#d0701c" stroke="#181818" stroke-width="0.7"/>
<line x1="280.80" y1="271.7" x2="280.80" y2="292.4" stroke="#101010" stroke-width="1"/>
<rect x="279.55" y="287.0" width="2.5" height="1.3" fill="#d0701c" stroke="#181818" stroke-width="0.7"/>
<line x1="283.80" y1="281.0" x2="283.80" y2="316.5" stroke="#101010" stroke-width="1"/>
<rect x="282.55" y="283.4" width="2.5" height="22.2" fill="#d0701c" stroke="#181818" stroke-width="0.7"/>
<line x1="286.79" y1="294.5" x2="286.79" y2="307.5" stroke="#101010" stroke-width="1"/>
<rect x="285.54" y="295.9" width="2.5" height="10.4" fill="#1a961a" stroke="#181818" stroke-width="0.7"/>
<line x1="289.78" y1="271.0" x2="289.78" y2="288.5" stroke="#101010" stroke-width="1"/>
<rect x="288.53" y="272.4" width="2.5" height="15.2" fill="#1a961a" stroke="#181818" stroke-width="0.7"/>
<line x1="292.77" y1="256.4" x2="292.77" y2="276.5" stroke="#101010" stroke-width="1"/>
<rect x="291.52" y="267.8" width="2.5" height="2.8" fill="#1a961a" stroke="#181818" stroke-width="0.7"/>
<line x1="295.77" y1="259.2" x2="295.77" y2="269.0" stroke="#101010" stroke-width="1"/>
<rect x="294.52" y="262.7" width="2.5" height="2.7" fill="#1a961a" stroke="#181818" stroke-width="0.7"/>
<line x1="298.76" y1="251.6" x2="298.76" y2="265.0" stroke="#101010" stroke-width="1"/>
<rect x="297.51" y="254.4" width="2.5" height="9.6" fill="#1a961a" stroke="#181818" stroke-width="0.7"/>
<line x1="301.75" y1="242.6" x2="301.75" y2="252.0" stroke="#101010" stroke-width="1"/>
<rect x="300.50" y="246.7" width="2.5" height="4.3" fill="#1a961a" stroke="#181818" stroke-width="0.7"/>
<line x1="304.74" y1="247.0" x2="304.74" y2="269.0" stroke="#101010" stroke-width="1"/>
<rect x="303.49" y="248.0" width="2.5" height="14.7" fill="#d0701c" stroke="#181818" stroke-width="0.7"/>
<line x1="307.74" y1="243.5" x2="307.74" y2="261.0" stroke="#101010" stroke-width="1"/>
<rect x="306.49" y="244.7" width="2.5" height="15.3" fill="#1a961a" stroke="#181818" stroke-width="0.7"/>
<line x1="310.73" y1="241.0" x2="310.73" y2="248.0" stroke="#101010" stroke-width="1"/>
<rect x="309.48" y="243.0" width="2.5" height="3.5" fill="#d0701c" stroke="#181818" stroke-width="0.7"/>
<line x1="313.72" y1="235.0" x2="313.72" y2="247.5" stroke="#101010" stroke-width="1"/>
<rect x="312.47" y="237.0" width="2.5" height="9.5" fill="#1a961a" stroke="#181818" stroke-width="0.7"/>
<line x1="316.71" y1="227.5" x2="316.71" y2="247.5" stroke="#101010" stroke-width="1"/>
<rect x="315.46" y="228.8" width="2.5" height="17.9" fill="#1a961a" stroke="#181818" stroke-width="0.7"/>
<line x1="319.71" y1="219.0" x2="319.71" y2="232.0" stroke="#101010" stroke-width="1"/>
<rect x="318.46" y="220.4" width="2.5" height="10.4" fill="#1a961a" stroke="#181818" stroke-width="0.7"/>
<line x1="322.70" y1="211.5" x2="322.70" y2="221.0" stroke="#101010" stroke-width="1"/>
<rect x="321.45" y="217.0" width="2.5" height="2.8" fill="#1a961a" stroke="#181818" stroke-width="0.7"/>
<line x1="325.69" y1="217.0" x2="325.69" y2="227.0" stroke="#101010" stroke-width="1"/>
<rect x="324.44" y="218.4" width="2.5" height="6.2" fill="#d0701c" stroke="#181818" stroke-width="0.7"/>
<line x1="328.68" y1="222.5" x2="328.68" y2="236.4" stroke="#101010" stroke-width="1"/>
<rect x="327.43" y="226.7" width="2.5" height="6.3" fill="#d0701c" stroke="#181818" stroke-width="0.7"/>
<line x1="331.68" y1="233.6" x2="331.68" y2="237.8" stroke="#101010" stroke-width="1"/>
<rect x="330.43" y="235.0" width="2.5" height="1.2" fill="#d0701c" stroke="#181818" stroke-width="0.7"/>
<line x1="334.67" y1="234.5" x2="334.67" y2="255.0" stroke="#101010" stroke-width="1"/>
<rect x="333.42" y="235.7" width="2.5" height="12.3" fill="#d0701c" stroke="#181818" stroke-width="0.7"/>
<line x1="337.66" y1="244.0" x2="337.66" y2="251.0" stroke="#101010" stroke-width="1"/>
<rect x="336.41" y="246.0" width="2.5" height="2.0" fill="#d0701c" stroke="#181818" stroke-width="0.7"/>
<line x1="340.65" y1="243.3" x2="340.65" y2="266.8" stroke="#101010" stroke-width="1"/>
<rect x="339.40" y="248.8" width="2.5" height="7.6" fill="#d0701c" stroke="#181818" stroke-width="0.7"/>
<line x1="343.65" y1="244.7" x2="343.65" y2="260.6" stroke="#101010" stroke-width="1"/>
<rect x="342.40" y="255.7" width="2.5" height="2.8" fill="#1a961a" stroke="#181818" stroke-width="0.7"/>
<line x1="346.64" y1="251.0" x2="346.64" y2="267.5" stroke="#101010" stroke-width="1"/>
<rect x="345.39" y="255.0" width="2.5" height="9.0" fill="#d0701c" stroke="#181818" stroke-width="0.7"/>
<line x1="349.63" y1="268.0" x2="349.63" y2="279.0" stroke="#101010" stroke-width="1"/>
<rect x="348.38" y="269.0" width="2.5" height="8.8" fill="#d0701c" stroke="#181818" stroke-width="0.7"/>
<line x1="352.62" y1="273.0" x2="352.62" y2="282.5" stroke="#101010" stroke-width="1"/>
<rect x="351.37" y="276.0" width="2.5" height="1.2" fill="#d0701c" stroke="#181818" stroke-width="0.7"/>
<line x1="355.62" y1="271.7" x2="355.62" y2="286.2" stroke="#101010" stroke-width="1"/>
<rect x="354.37" y="273.5" width="2.5" height="5.0" fill="#1a961a" stroke="#181818" stroke-width="0.7"/>
<line x1="358.61" y1="260.5" x2="358.61" y2="274.5" stroke="#101010" stroke-width="1"/>
<rect x="357.36" y="261.5" width="2.5" height="12.0" fill="#1a961a" stroke="#181818" stroke-width="0.7"/>
<line x1="361.60" y1="259.6" x2="361.60" y2="269.0" stroke="#101010" stroke-width="1"/>
<rect x="360.35" y="261.3" width="2.5" height="6.7" fill="#d0701c" stroke="#181818" stroke-width="0.7"/>
<line x1="364.59" y1="262.4" x2="364.59" y2="270.7" stroke="#101010" stroke-width="1"/>
<rect x="363.34" y="264.5" width="2.5" height="2.0" fill="#d0701c" stroke="#181818" stroke-width="0.7"/>
<line x1="367.59" y1="243.0" x2="367.59" y2="266.0" stroke="#101010" stroke-width="1"/>
<rect x="366.34" y="247.8" width="2.5" height="17.2" fill="#1a961a" stroke="#181818" stroke-width="0.7"/>
<line x1="370.58" y1="240.0" x2="370.58" y2="250.0" stroke="#101010" stroke-width="1"/>
<rect x="369.33" y="241.0" width="2.5" height="6.8" fill="#1a961a" stroke="#181818" stroke-width="0.7"/>
<line x1="373.57" y1="234.4" x2="373.57" y2="248.5" stroke="#101010" stroke-width="1"/>
<rect x="372.32" y="239.5" width="2.5" height="5.5" fill="#d0701c" stroke="#181818" stroke-width="0.7"/>
<line x1="376.56" y1="242.0" x2="376.56" y2="247.0" stroke="#101010" stroke-width="1"/>
<rect x="375.31" y="243.0" width="2.5" height="2.8" fill="#d0701c" stroke="#181818" stroke-width="0.7"/>
<line x1="379.56" y1="241.0" x2="379.56" y2="270.0" stroke="#101010" stroke-width="1"/>
<rect x="378.31" y="242.3" width="2.5" height="24.9" fill="#d0701c" stroke="#181818" stroke-width="0.7"/>
<line x1="382.55" y1="265.0" x2="382.55" y2="270.7" stroke="#101010" stroke-width="1"/>
<rect x="381.30" y="266.0" width="2.5" height="1.2" fill="#d0701c" stroke="#181818" stroke-width="0.7"/>
<line x1="385.54" y1="263.5" x2="385.54" y2="281.7" stroke="#101010" stroke-width="1"/>
<rect x="384.29" y="264.4" width="2.5" height="11.1" fill="#d0701c" stroke="#181818" stroke-width="0.7"/>
<line x1="388.53" y1="272.0" x2="388.53" y2="291.4" stroke="#101010" stroke-width="1"/>
<rect x="387.28" y="276.2" width="2.5" height="4.2" fill="#d0701c" stroke="#181818" stroke-width="0.7"/>
<line x1="391.53" y1="279.5" x2="391.53" y2="295.6" stroke="#101010" stroke-width="1"/>
<rect x="390.28" y="280.4" width="2.5" height="4.1" fill="#d0701c" stroke="#181818" stroke-width="0.7"/>
<line x1="394.52" y1="276.0" x2="394.52" y2="288.7" stroke="#101010" stroke-width="1"/>
<rect x="393.27" y="277.0" width="2.5" height="4.7" fill="#1a961a" stroke="#181818" stroke-width="0.7"/>
<line x1="397.51" y1="276.5" x2="397.51" y2="292.0" stroke="#101010" stroke-width="1"/>
<rect x="396.26" y="277.6" width="2.5" height="12.4" fill="#d0701c" stroke="#181818" stroke-width="0.7"/>
<line x1="400.50" y1="283.8" x2="400.50" y2="308.7" stroke="#101010" stroke-width="1"/>
<rect x="399.25" y="290.7" width="2.5" height="7.7" fill="#d0701c" stroke="#181818" stroke-width="0.7"/>
<line x1="403.50" y1="290.0" x2="403.50" y2="310.8" stroke="#101010" stroke-width="1"/>
<rect x="402.25" y="296.0" width="2.5" height="1.3" fill="#d0701c" stroke="#181818" stroke-width="0.7"/>
<line x1="406.49" y1="298.0" x2="406.49" y2="302.5" stroke="#101010" stroke-width="1"/>
<rect x="405.24" y="299.0" width="2.5" height="2.0" fill="#d0701c" stroke="#181818" stroke-width="0.7"/>
<line x1="409.48" y1="294.2" x2="409.48" y2="308.7" stroke="#101010" stroke-width="1"/>
<rect x="408.23" y="295.6" width="2.5" height="8.3" fill="#d0701c" stroke="#181818" stroke-width="0.7"/>
<line x1="412.47" y1="298.4" x2="412.47" y2="311.5" stroke="#101010" stroke-width="1"/>
<rect x="411.22" y="303.0" width="2.5" height="1.2" fill="#d0701c" stroke="#181818" stroke-width="0.7"/>
<line x1="415.47" y1="301.8" x2="415.47" y2="306.7" stroke="#101010" stroke-width="1"/>
<rect x="414.22" y="304.3" width="2.5" height="1.2" fill="#d0701c" stroke="#181818" stroke-width="0.7"/>
<line x1="418.46" y1="304.0" x2="418.46" y2="313.6" stroke="#101010" stroke-width="1"/>
<rect x="417.21" y="305.0" width="2.5" height="1.2" fill="#d0701c" stroke="#181818" stroke-width="0.7"/>
<line x1="421.45" y1="306.0" x2="421.45" y2="326.7" stroke="#101010" stroke-width="1"/>
<rect x="420.20" y="306.9" width="2.5" height="18.6" fill="#d0701c" stroke="#181818" stroke-width="0.7"/>
<line x1="424.44" y1="299.5" x2="424.44" y2="326.0" stroke="#101010" stroke-width="1"/>
<rect x="423.19" y="308.5" width="2.5" height="16.3" fill="#1a961a" stroke="#181818" stroke-width="0.7"/>
<line x1="427.44" y1="303.0" x2="427.44" y2="313.5" stroke="#101010" stroke-width="1"/>
<rect x="426.19" y="304.0" width="2.5" height="5.2" fill="#1a961a" stroke="#181818" stroke-width="0.7"/>
<line x1="430.43" y1="293.2" x2="430.43" y2="308.0" stroke="#101010" stroke-width="1"/>
<rect x="429.18" y="303.0" width="2.5" height="3.5" fill="#d0701c" stroke="#181818" stroke-width="0.7"/>
<line x1="433.42" y1="292.6" x2="433.42" y2="316.5" stroke="#101010" stroke-width="1"/>
<rect x="432.17" y="301.6" width="2.5" height="13.9" fill="#1a961a" stroke="#181818" stroke-width="0.7"/>
<line x1="436.41" y1="298.0" x2="436.41" y2="322.0" stroke="#101010" stroke-width="1"/>
<rect x="435.16" y="301.3" width="2.5" height="19.4" fill="#d0701c" stroke="#181818" stroke-width="0.7"/>
<line x1="439.41" y1="314.6" x2="439.41" y2="326.0" stroke="#101010" stroke-width="1"/>
<rect x="438.16" y="320.0" width="2.5" height="4.8" fill="#d0701c" stroke="#181818" stroke-width="0.7"/>
<line x1="442.40" y1="322.5" x2="442.40" y2="338.5" stroke="#101010" stroke-width="1"/>
<rect x="441.15" y="323.8" width="2.5" height="13.4" fill="#d0701c" stroke="#181818" stroke-width="0.7"/>
<line x1="445.39" y1="333.5" x2="445.39" y2="354.7" stroke="#101010" stroke-width="1"/>
<rect x="444.14" y="334.8" width="2.5" height="4.9" fill="#1a961a" stroke="#181818" stroke-width="0.7"/>
<line x1="448.38" y1="330.3" x2="448.38" y2="372.7" stroke="#101010" stroke-width="1"/>
<rect x="447.13" y="334.5" width="2.5" height="25.1" fill="#d0701c" stroke="#181818" stroke-width="0.7"/>
<line x1="451.38" y1="350.6" x2="451.38" y2="365.8" stroke="#101010" stroke-width="1"/>
<rect x="450.12" y="352.7" width="2.5" height="6.9" fill="#1a961a" stroke="#181818" stroke-width="0.7"/>
<line x1="454.37" y1="351.5" x2="454.37" y2="366.5" stroke="#101010" stroke-width="1"/>
<rect x="453.12" y="352.7" width="2.5" height="6.9" fill="#d0701c" stroke="#181818" stroke-width="0.7"/>
<line x1="457.36" y1="346.4" x2="457.36" y2="374.8" stroke="#101010" stroke-width="1"/>
<rect x="456.11" y="350.6" width="2.5" height="5.4" fill="#1a961a" stroke="#181818" stroke-width="0.7"/>
<line x1="460.35" y1="346.4" x2="460.35" y2="363.0" stroke="#101010" stroke-width="1"/>
<rect x="459.10" y="351.0" width="2.5" height="1.3" fill="#d0701c" stroke="#181818" stroke-width="0.7"/>
<line x1="463.35" y1="348.5" x2="463.35" y2="378.3" stroke="#101010" stroke-width="1"/>
<rect x="462.10" y="352.7" width="2.5" height="4.1" fill="#d0701c" stroke="#181818" stroke-width="0.7"/>
<line x1="466.34" y1="356.0" x2="466.34" y2="366.5" stroke="#101010" stroke-width="1"/>
<rect x="465.09" y="356.8" width="2.5" height="1.4" fill="#d0701c" stroke="#181818" stroke-width="0.7"/>
<line x1="469.33" y1="349.2" x2="469.33" y2="364.4" stroke="#101010" stroke-width="1"/>
<rect x="468.08" y="354.7" width="2.5" height="3.5" fill="#1a961a" stroke="#181818" stroke-width="0.7"/>
<line x1="472.32" y1="350.6" x2="472.32" y2="359.0" stroke="#101010" stroke-width="1"/>
<rect x="471.07" y="354.7" width="2.5" height="1.2" fill="#d0701c" stroke="#181818" stroke-width="0.7"/>
<line x1="475.31" y1="353.5" x2="475.31" y2="381.7" stroke="#101010" stroke-width="1"/>
<rect x="474.06" y="354.7" width="2.5" height="21.5" fill="#d0701c" stroke="#181818" stroke-width="0.7"/>
<line x1="478.31" y1="371.3" x2="478.31" y2="382.4" stroke="#101010" stroke-width="1"/>
<rect x="477.06" y="375.5" width="2.5" height="1.5" fill="#d0701c" stroke="#181818" stroke-width="0.7"/>
<line x1="481.30" y1="371.3" x2="481.30" y2="378.3" stroke="#101010" stroke-width="1"/>
<rect x="480.05" y="375.5" width="2.5" height="2.1" fill="#d0701c" stroke="#181818" stroke-width="0.7"/>
<line x1="484.29" y1="343.7" x2="484.29" y2="376.5" stroke="#101010" stroke-width="1"/>
<rect x="483.04" y="362.4" width="2.5" height="13.1" fill="#1a961a" stroke="#181818" stroke-width="0.7"/>
<line x1="487.29" y1="331.2" x2="487.29" y2="374.8" stroke="#101010" stroke-width="1"/>
<rect x="486.04" y="334.7" width="2.5" height="27.7" fill="#1a961a" stroke="#181818" stroke-width="0.7"/>
<line x1="490.28" y1="326.5" x2="490.28" y2="335.5" stroke="#101010" stroke-width="1"/>
<rect x="489.03" y="327.8" width="2.5" height="7.0" fill="#1a961a" stroke="#181818" stroke-width="0.7"/>
<line x1="493.27" y1="319.4" x2="493.27" y2="331.2" stroke="#101010" stroke-width="1"/>
<rect x="492.02" y="326.7" width="2.5" height="1.2" fill="#1a961a" stroke="#181818" stroke-width="0.7"/>
<line x1="496.26" y1="318.8" x2="496.26" y2="339.7" stroke="#101010" stroke-width="1"/>
<rect x="495.01" y="322.8" width="2.5" height="4.4" fill="#1a961a" stroke="#181818" stroke-width="0.7"/>
<line x1="499.26" y1="296.8" x2="499.26" y2="324.0" stroke="#101010" stroke-width="1"/>
<rect x="498.01" y="303.0" width="2.5" height="19.8" fill="#1a961a" stroke="#181818" stroke-width="0.7"/>
<line x1="502.25" y1="300.0" x2="502.25" y2="305.6" stroke="#101010" stroke-width="1"/>
<rect x="501.00" y="303.0" width="2.5" height="1.2" fill="#d0701c" stroke="#181818" stroke-width="0.7"/>
<line x1="505.24" y1="302.0" x2="505.24" y2="311.5" stroke="#101010" stroke-width="1"/>
<rect x="503.99" y="303.0" width="2.5" height="5.5" fill="#d0701c" stroke="#181818" stroke-width="0.7"/>
<line x1="508.23" y1="295.8" x2="508.23" y2="311.7" stroke="#101010" stroke-width="1"/>
<rect x="506.98" y="300.6" width="2.5" height="7.9" fill="#1a961a" stroke="#181818" stroke-width="0.7"/>
<line x1="511.23" y1="265.0" x2="511.23" y2="315.3" stroke="#484848" stroke-width="1"/>
<rect x="509.98" y="300.8" width="2.5" height="7.6" fill="#d0701c" stroke="#181818" stroke-width="0.7"/>
<line x1="514.22" y1="305.0" x2="514.22" y2="310.0" stroke="#101010" stroke-width="1"/>
<rect x="512.97" y="308.4" width="2.5" height="1.2" fill="#d0701c" stroke="#181818" stroke-width="0.7"/>
<line x1="517.21" y1="308.5" x2="517.21" y2="327.7" stroke="#101010" stroke-width="1"/>
<rect x="515.96" y="309.8" width="2.5" height="14.5" fill="#d0701c" stroke="#181818" stroke-width="0.7"/>
<line x1="520.20" y1="305.0" x2="520.20" y2="325.5" stroke="#101010" stroke-width="1"/>
<rect x="518.95" y="309.0" width="2.5" height="15.3" fill="#1a961a" stroke="#181818" stroke-width="0.7"/>
<line x1="523.20" y1="299.4" x2="523.20" y2="324.3" stroke="#101010" stroke-width="1"/>
<rect x="521.95" y="308.4" width="2.5" height="12.4" fill="#d0701c" stroke="#181818" stroke-width="0.7"/>
<line x1="526.19" y1="319.5" x2="526.19" y2="338.0" stroke="#101010" stroke-width="1"/>
<rect x="524.94" y="320.8" width="2.5" height="14.6" fill="#d0701c" stroke="#181818" stroke-width="0.7"/>
<line x1="529.18" y1="322.5" x2="529.18" y2="346.4" stroke="#101010" stroke-width="1"/>
<rect x="527.93" y="323.6" width="2.5" height="13.1" fill="#1a961a" stroke="#181818" stroke-width="0.7"/>
<line x1="532.17" y1="315.3" x2="532.17" y2="339.5" stroke="#101010" stroke-width="1"/>
<rect x="530.92" y="323.6" width="2.5" height="9.7" fill="#d0701c" stroke="#181818" stroke-width="0.7"/>
<line x1="535.17" y1="324.5" x2="535.17" y2="337.4" stroke="#101010" stroke-width="1"/>
<rect x="533.92" y="325.7" width="2.5" height="7.6" fill="#1a961a" stroke="#181818" stroke-width="0.7"/>
<line x1="538.16" y1="319.4" x2="538.16" y2="334.7" stroke="#101010" stroke-width="1"/>
<rect x="536.91" y="325.0" width="2.5" height="3.4" fill="#d0701c" stroke="#181818" stroke-width="0.7"/>
<line x1="541.15" y1="324.3" x2="541.15" y2="336.0" stroke="#101010" stroke-width="1"/>
<rect x="539.90" y="327.0" width="2.5" height="1.4" fill="#1a961a" stroke="#181818" stroke-width="0.7"/>
<line x1="544.14" y1="320.0" x2="544.14" y2="332.0" stroke="#101010" stroke-width="1"/>
<rect x="542.89" y="327.0" width="2.5" height="2.8" fill="#d0701c" stroke="#181818" stroke-width="0.7"/>
<line x1="547.13" y1="324.3" x2="547.13" y2="341.0" stroke="#101010" stroke-width="1"/>
<rect x="545.88" y="332.0" width="2.5" height="3.4" fill="#d0701c" stroke="#181818" stroke-width="0.7"/>
<line x1="550.13" y1="326.0" x2="550.13" y2="336.5" stroke="#101010" stroke-width="1"/>
<rect x="548.88" y="327.0" width="2.5" height="8.4" fill="#1a961a" stroke="#181818" stroke-width="0.7"/>
<line x1="553.12" y1="318.8" x2="553.12" y2="342.3" stroke="#101010" stroke-width="1"/>
<rect x="551.87" y="325.0" width="2.5" height="3.4" fill="#1a961a" stroke="#181818" stroke-width="0.7"/>
<line x1="556.11" y1="312.5" x2="556.11" y2="325.5" stroke="#101010" stroke-width="1"/>
<rect x="554.86" y="320.0" width="2.5" height="4.3" fill="#1a961a" stroke="#181818" stroke-width="0.7"/>
<line x1="559.11" y1="296.0" x2="559.11" y2="320.5" stroke="#101010" stroke-width="1"/>
<rect x="557.86" y="299.4" width="2.5" height="20.0" fill="#1a961a" stroke="#181818" stroke-width="0.7"/>
<line x1="562.10" y1="297.5" x2="562.10" y2="302.0" stroke="#101010" stroke-width="1"/>
<rect x="560.85" y="298.7" width="2.5" height="2.1" fill="#d0701c" stroke="#181818" stroke-width="0.7"/>
<line x1="565.09" y1="287.6" x2="565.09" y2="302.0" stroke="#101010" stroke-width="1"/>
<rect x="563.84" y="291.8" width="2.5" height="9.0" fill="#1a961a" stroke="#181818" stroke-width="0.7"/>
<line x1="568.08" y1="291.5" x2="568.08" y2="301.5" stroke="#101010" stroke-width="1"/>
<rect x="566.83" y="292.5" width="2.5" height="2.7" fill="#d0701c" stroke="#181818" stroke-width="0.7"/>
<line x1="571.08" y1="283.5" x2="571.08" y2="297.3" stroke="#101010" stroke-width="1"/>
<rect x="569.83" y="295.6" width="2.5" height="1.2" fill="#d0701c" stroke="#181818" stroke-width="0.7"/>
<line x1="574.07" y1="290.5" x2="574.07" y2="298.0" stroke="#101010" stroke-width="1"/>
<rect x="572.82" y="291.5" width="2.5" height="5.3" fill="#1a961a" stroke="#181818" stroke-width="0.7"/>
<line x1="577.06" y1="282.4" x2="577.06" y2="291.0" stroke="#101010" stroke-width="1"/>
<rect x="575.81" y="286.7" width="2.5" height="3.5" fill="#1a961a" stroke="#181818" stroke-width="0.7"/>
<line x1="580.05" y1="285.5" x2="580.05" y2="291.7" stroke="#101010" stroke-width="1"/>
<rect x="578.80" y="286.5" width="2.5" height="4.2" fill="#d0701c" stroke="#181818" stroke-width="0.7"/>
<line x1="583.05" y1="273.5" x2="583.05" y2="291.7" stroke="#101010" stroke-width="1"/>
<rect x="581.80" y="274.7" width="2.5" height="16.0" fill="#1a961a" stroke="#181818" stroke-width="0.7"/>
<line x1="586.04" y1="242.5" x2="586.04" y2="305.9" stroke="#484848" stroke-width="1"/>
<rect x="584.79" y="243.6" width="2.5" height="31.8" fill="#1a961a" stroke="#181818" stroke-width="0.7"/>
<line x1="589.03" y1="236.7" x2="589.03" y2="256.0" stroke="#101010" stroke-width="1"/>
<rect x="587.78" y="243.6" width="2.5" height="11.1" fill="#d0701c" stroke="#181818" stroke-width="0.7"/>
<line x1="592.02" y1="254.0" x2="592.02" y2="261.0" stroke="#101010" stroke-width="1"/>
<rect x="590.77" y="255.4" width="2.5" height="1.3" fill="#d0701c" stroke="#181818" stroke-width="0.7"/>
<line x1="595.01" y1="235.3" x2="595.01" y2="267.8" stroke="#484848" stroke-width="1"/>
<rect x="593.76" y="256.0" width="2.5" height="5.6" fill="#d0701c" stroke="#181818" stroke-width="0.7"/>
<line x1="598.01" y1="258.5" x2="598.01" y2="263.0" stroke="#101010" stroke-width="1"/>
<rect x="596.76" y="259.5" width="2.5" height="2.1" fill="#1a961a" stroke="#181818" stroke-width="0.7"/>
<line x1="601.00" y1="255.4" x2="601.00" y2="267.8" stroke="#101010" stroke-width="1"/>
<rect x="599.75" y="260.2" width="2.5" height="3.5" fill="#d0701c" stroke="#181818" stroke-width="0.7"/>
<line x1="603.99" y1="255.4" x2="603.99" y2="275.4" stroke="#101010" stroke-width="1"/>
<rect x="602.74" y="263.0" width="2.5" height="9.7" fill="#d0701c" stroke="#181818" stroke-width="0.7"/>
<line x1="606.99" y1="260.2" x2="606.99" y2="275.4" stroke="#101010" stroke-width="1"/>
<rect x="605.74" y="263.0" width="2.5" height="9.7" fill="#1a961a" stroke="#181818" stroke-width="0.7"/>
<line x1="609.98" y1="256.3" x2="609.98" y2="264.7" stroke="#101010" stroke-width="1"/>
<rect x="608.73" y="257.4" width="2.5" height="6.3" fill="#1a961a" stroke="#181818" stroke-width="0.7"/>
<line x1="612.97" y1="247.0" x2="612.97" y2="258.5" stroke="#101010" stroke-width="1"/>
<rect x="611.72" y="252.0" width="2.5" height="5.4" fill="#1a961a" stroke="#181818" stroke-width="0.7"/>
<line x1="615.96" y1="240.8" x2="615.96" y2="258.0" stroke="#101010" stroke-width="1"/>
<rect x="614.71" y="242.2" width="2.5" height="10.4" fill="#1a961a" stroke="#181818" stroke-width="0.7"/>
<line x1="618.96" y1="220.0" x2="618.96" y2="245.0" stroke="#101010" stroke-width="1"/>
<rect x="617.71" y="221.5" width="2.5" height="22.1" fill="#1a961a" stroke="#181818" stroke-width="0.7"/>
<line x1="621.95" y1="221.0" x2="621.95" y2="228.7" stroke="#101010" stroke-width="1"/>
<rect x="620.70" y="222.0" width="2.5" height="5.7" fill="#d0701c" stroke="#181818" stroke-width="0.7"/>
<line x1="624.94" y1="222.8" x2="624.94" y2="231.0" stroke="#101010" stroke-width="1"/>
<rect x="623.69" y="227.7" width="2.5" height="1.2" fill="#d0701c" stroke="#181818" stroke-width="0.7"/>
<line x1="627.93" y1="225.3" x2="627.93" y2="230.0" stroke="#101010" stroke-width="1"/>
<rect x="626.68" y="226.3" width="2.5" height="2.7" fill="#1a961a" stroke="#181818" stroke-width="0.7"/>
<line x1="630.93" y1="218.0" x2="630.93" y2="226.5" stroke="#101010" stroke-width="1"/>
<rect x="629.68" y="222.8" width="2.5" height="2.8" fill="#1a961a" stroke="#181818" stroke-width="0.7"/>
<line x1="633.92" y1="218.7" x2="633.92" y2="226.0" stroke="#101010" stroke-width="1"/>
<rect x="632.67" y="222.0" width="2.5" height="3.0" fill="#d0701c" stroke="#181818" stroke-width="0.7"/>
<line x1="636.91" y1="220.8" x2="636.91" y2="225.0" stroke="#101010" stroke-width="1"/>
<rect x="635.66" y="223.0" width="2.5" height="1.2" fill="#d0701c" stroke="#181818" stroke-width="0.7"/>
<line x1="639.90" y1="223.0" x2="639.90" y2="231.8" stroke="#101010" stroke-width="1"/>
<rect x="638.65" y="224.2" width="2.5" height="2.1" fill="#d0701c" stroke="#181818" stroke-width="0.7"/>
<line x1="642.89" y1="224.5" x2="642.89" y2="236.0" stroke="#101010" stroke-width="1"/>
<rect x="641.64" y="225.6" width="2.5" height="7.6" fill="#d0701c" stroke="#181818" stroke-width="0.7"/>
<line x1="645.89" y1="232.0" x2="645.89" y2="242.2" stroke="#101010" stroke-width="1"/>
<rect x="644.64" y="233.2" width="2.5" height="5.6" fill="#d0701c" stroke="#181818" stroke-width="0.7"/>
<line x1="648.88" y1="235.0" x2="648.88" y2="240.5" stroke="#101010" stroke-width="1"/>
<rect x="647.63" y="236.0" width="2.5" height="3.4" fill="#1a961a" stroke="#181818" stroke-width="0.7"/>
<line x1="651.87" y1="225.0" x2="651.87" y2="238.8" stroke="#101010" stroke-width="1"/>
<rect x="650.62" y="231.0" width="2.5" height="4.3" fill="#1a961a" stroke="#181818" stroke-width="0.7"/>
<line x1="654.87" y1="230.0" x2="654.87" y2="242.2" stroke="#101010" stroke-width="1"/>
<rect x="653.62" y="231.0" width="2.5" height="6.4" fill="#d0701c" stroke="#181818" stroke-width="0.7"/>
<line x1="657.86" y1="236.3" x2="657.86" y2="241.0" stroke="#101010" stroke-width="1"/>
<rect x="656.61" y="237.4" width="2.5" height="2.6" fill="#d0701c" stroke="#181818" stroke-width="0.7"/>
<line x1="660.85" y1="230.0" x2="660.85" y2="241.0" stroke="#101010" stroke-width="1"/>
<rect x="659.60" y="231.0" width="2.5" height="9.0" fill="#1a961a" stroke="#181818" stroke-width="0.7"/>
<line x1="663.84" y1="225.0" x2="663.84" y2="231.2" stroke="#101010" stroke-width="1"/>
<rect x="662.59" y="229.5" width="2.5" height="1.2" fill="#1a961a" stroke="#181818" stroke-width="0.7"/>
<line x1="666.84" y1="225.0" x2="666.84" y2="247.8" stroke="#101010" stroke-width="1"/>
<rect x="665.59" y="229.8" width="2.5" height="13.2" fill="#d0701c" stroke="#181818" stroke-width="0.7"/>
<line x1="669.83" y1="241.0" x2="669.83" y2="245.7" stroke="#101010" stroke-width="1"/>
<rect x="668.58" y="242.2" width="2.5" height="1.2" fill="#d0701c" stroke="#181818" stroke-width="0.7"/>
<line x1="672.82" y1="239.4" x2="672.82" y2="254.0" stroke="#101010" stroke-width="1"/>
<rect x="671.57" y="243.6" width="2.5" height="5.4" fill="#d0701c" stroke="#181818" stroke-width="0.7"/>
<line x1="675.81" y1="234.6" x2="675.81" y2="251.2" stroke="#101010" stroke-width="1"/>
<rect x="674.56" y="244.3" width="2.5" height="4.7" fill="#1a961a" stroke="#181818" stroke-width="0.7"/>
<line x1="678.81" y1="241.5" x2="678.81" y2="250.5" stroke="#101010" stroke-width="1"/>
<rect x="677.56" y="244.0" width="2.5" height="1.2" fill="#d0701c" stroke="#181818" stroke-width="0.7"/>
<line x1="681.80" y1="240.0" x2="681.80" y2="249.0" stroke="#101010" stroke-width="1"/>
<rect x="680.55" y="243.0" width="2.5" height="3.4" fill="#d0701c" stroke="#181818" stroke-width="0.7"/>
<line x1="684.79" y1="246.5" x2="684.79" y2="311.5" stroke="#101010" stroke-width="1"/>
<rect x="683.54" y="247.8" width="2.5" height="62.7" fill="#d0701c" stroke="#181818" stroke-width="0.7"/>
<line x1="687.78" y1="304.6" x2="687.78" y2="323.0" stroke="#101010" stroke-width="1"/>
<rect x="686.53" y="310.0" width="2.5" height="12.0" fill="#d0701c" stroke="#181818" stroke-width="0.7"/>
<line x1="690.78" y1="320.0" x2="690.78" y2="340.6" stroke="#101010" stroke-width="1"/>
<rect x="689.53" y="321.2" width="2.5" height="15.2" fill="#d0701c" stroke="#181818" stroke-width="0.7"/>
<line x1="693.77" y1="335.0" x2="693.77" y2="346.0" stroke="#101010" stroke-width="1"/>
<rect x="692.52" y="336.4" width="2.5" height="2.1" fill="#d0701c" stroke="#181818" stroke-width="0.7"/>
<line x1="696.76" y1="320.5" x2="696.76" y2="339.5" stroke="#101010" stroke-width="1"/>
<rect x="695.51" y="322.0" width="2.5" height="16.5" fill="#1a961a" stroke="#181818" stroke-width="0.7"/>
<line x1="699.75" y1="318.4" x2="699.75" y2="328.0" stroke="#101010" stroke-width="1"/>
<rect x="698.50" y="322.6" width="2.5" height="2.8" fill="#d0701c" stroke="#181818" stroke-width="0.7"/>
<line x1="702.75" y1="321.8" x2="702.75" y2="333.3" stroke="#101010" stroke-width="1"/>
<rect x="701.50" y="325.4" width="2.5" height="6.9" fill="#d0701c" stroke="#181818" stroke-width="0.7"/>
<line x1="705.74" y1="332.0" x2="705.74" y2="342.7" stroke="#101010" stroke-width="1"/>
<rect x="704.49" y="333.0" width="2.5" height="5.5" fill="#d0701c" stroke="#181818" stroke-width="0.7"/>
<line x1="708.73" y1="328.5" x2="708.73" y2="339.5" stroke="#101010" stroke-width="1"/>
<rect x="707.48" y="329.5" width="2.5" height="9.0" fill="#1a961a" stroke="#181818" stroke-width="0.7"/>
<line x1="711.72" y1="321.0" x2="711.72" y2="330.5" stroke="#101010" stroke-width="1"/>
<rect x="710.47" y="326.0" width="2.5" height="3.5" fill="#1a961a" stroke="#181818" stroke-width="0.7"/>
<line x1="714.72" y1="324.3" x2="714.72" y2="355.0" stroke="#101010" stroke-width="1"/>
<rect x="713.47" y="325.4" width="2.5" height="27.0" fill="#d0701c" stroke="#181818" stroke-width="0.7"/>
<line x1="717.71" y1="349.0" x2="717.71" y2="358.6" stroke="#101010" stroke-width="1"/>
<rect x="716.46" y="350.3" width="2.5" height="2.7" fill="#1a961a" stroke="#181818" stroke-width="0.7"/>
<line x1="720.70" y1="341.3" x2="720.70" y2="351.0" stroke="#101010" stroke-width="1"/>
<rect x="719.45" y="345.4" width="2.5" height="4.2" fill="#1a961a" stroke="#181818" stroke-width="0.7"/>
<line x1="723.69" y1="332.3" x2="723.69" y2="347.5" stroke="#101010" stroke-width="1"/>
<rect x="722.44" y="337.0" width="2.5" height="8.4" fill="#1a961a" stroke="#181818" stroke-width="0.7"/>
<line x1="726.69" y1="308.0" x2="726.69" y2="339.0" stroke="#101010" stroke-width="1"/>
<rect x="725.44" y="314.3" width="2.5" height="23.5" fill="#1a961a" stroke="#181818" stroke-width="0.7"/>
<line x1="729.68" y1="309.5" x2="729.68" y2="318.4" stroke="#101010" stroke-width="1"/>
<rect x="728.43" y="310.8" width="2.5" height="3.5" fill="#1a961a" stroke="#181818" stroke-width="0.7"/>
<line x1="732.67" y1="311.5" x2="732.67" y2="318.0" stroke="#101010" stroke-width="1"/>
<rect x="731.42" y="313.0" width="2.5" height="3.4" fill="#d0701c" stroke="#181818" stroke-width="0.7"/>
<line x1="735.66" y1="301.0" x2="735.66" y2="322.6" stroke="#101010" stroke-width="1"/>
<rect x="734.41" y="303.2" width="2.5" height="13.2" fill="#1a961a" stroke="#181818" stroke-width="0.7"/>
<line x1="738.66" y1="297.7" x2="738.66" y2="321.2" stroke="#101010" stroke-width="1"/>
<rect x="737.41" y="303.2" width="2.5" height="17.3" fill="#d0701c" stroke="#181818" stroke-width="0.7"/>
<line x1="741.65" y1="319.5" x2="741.65" y2="346.0" stroke="#101010" stroke-width="1"/>
<rect x="740.40" y="320.5" width="2.5" height="22.9" fill="#d0701c" stroke="#181818" stroke-width="0.7"/>
<line x1="744.64" y1="340.0" x2="744.64" y2="355.5" stroke="#101010" stroke-width="1"/>
<rect x="743.39" y="344.7" width="2.5" height="9.7" fill="#d0701c" stroke="#181818" stroke-width="0.7"/>
<line x1="747.63" y1="329.0" x2="747.63" y2="357.2" stroke="#101010" stroke-width="1"/>
<rect x="746.38" y="330.2" width="2.5" height="23.5" fill="#1a961a" stroke="#181818" stroke-width="0.7"/>
<line x1="750.62" y1="321.0" x2="750.62" y2="338.0" stroke="#101010" stroke-width="1"/>
<rect x="749.38" y="325.4" width="2.5" height="4.8" fill="#1a961a" stroke="#181818" stroke-width="0.7"/>
<line x1="753.62" y1="321.5" x2="753.62" y2="330.2" stroke="#101010" stroke-width="1"/>
<rect x="752.37" y="322.6" width="2.5" height="2.1" fill="#1a961a" stroke="#181818" stroke-width="0.7"/>
<line x1="756.61" y1="312.5" x2="756.61" y2="328.0" stroke="#101010" stroke-width="1"/>
<rect x="755.36" y="313.6" width="2.5" height="9.0" fill="#1a961a" stroke="#181818" stroke-width="0.7"/>
<line x1="759.60" y1="312.5" x2="759.60" y2="325.4" stroke="#101010" stroke-width="1"/>
<rect x="758.35" y="313.6" width="2.5" height="8.4" fill="#d0701c" stroke="#181818" stroke-width="0.7"/>
<line x1="762.60" y1="303.9" x2="762.60" y2="323.3" stroke="#101010" stroke-width="1"/>
<rect x="761.35" y="306.0" width="2.5" height="16.0" fill="#1a961a" stroke="#181818" stroke-width="0.7"/>
<line x1="765.59" y1="303.2" x2="765.59" y2="308.8" stroke="#101010" stroke-width="1"/>
<rect x="764.34" y="304.6" width="2.5" height="1.4" fill="#d0701c" stroke="#181818" stroke-width="0.7"/>
<line x1="768.58" y1="302.5" x2="768.58" y2="309.5" stroke="#101010" stroke-width="1"/>
<rect x="767.33" y="305.3" width="2.5" height="2.7" fill="#d0701c" stroke="#181818" stroke-width="0.7"/>
<line x1="771.57" y1="303.0" x2="771.57" y2="324.7" stroke="#101010" stroke-width="1"/>
<rect x="770.32" y="307.4" width="2.5" height="11.6" fill="#d0701c" stroke="#181818" stroke-width="0.7"/>
<line x1="774.57" y1="318.0" x2="774.57" y2="335.7" stroke="#101010" stroke-width="1"/>
<rect x="773.32" y="319.0" width="2.5" height="11.2" fill="#d0701c" stroke="#181818" stroke-width="0.7"/>
<line x1="777.56" y1="327.0" x2="777.56" y2="333.0" stroke="#101010" stroke-width="1"/>
<rect x="776.31" y="328.0" width="2.5" height="3.0" fill="#1a961a" stroke="#181818" stroke-width="0.7"/>
<line x1="780.55" y1="324.7" x2="780.55" y2="335.7" stroke="#101010" stroke-width="1"/>
<rect x="779.30" y="328.0" width="2.5" height="1.2" fill="#d0701c" stroke="#181818" stroke-width="0.7"/>
<line x1="783.54" y1="299.8" x2="783.54" y2="331.0" stroke="#101010" stroke-width="1"/>
<rect x="782.29" y="306.7" width="2.5" height="20.7" fill="#1a961a" stroke="#181818" stroke-width="0.7"/>
<line x1="786.54" y1="305.5" x2="786.54" y2="331.6" stroke="#101010" stroke-width="1"/>
<rect x="785.29" y="306.7" width="2.5" height="18.0" fill="#d0701c" stroke="#181818" stroke-width="0.7"/>
<line x1="789.53" y1="323.5" x2="789.53" y2="332.3" stroke="#101010" stroke-width="1"/>
<rect x="788.28" y="324.7" width="2.5" height="2.0" fill="#d0701c" stroke="#181818" stroke-width="0.7"/>
<line x1="792.52" y1="321.0" x2="792.52" y2="335.0" stroke="#101010" stroke-width="1"/>
<rect x="791.27" y="326.0" width="2.5" height="1.2" fill="#d0701c" stroke="#181818" stroke-width="0.7"/>
<line x1="795.51" y1="316.4" x2="795.51" y2="331.0" stroke="#101010" stroke-width="1"/>
<rect x="794.26" y="323.3" width="2.5" height="3.4" fill="#1a961a" stroke="#181818" stroke-width="0.7"/>
<line x1="798.50" y1="317.0" x2="798.50" y2="328.0" stroke="#101010" stroke-width="1"/>
<rect x="797.25" y="323.3" width="2.5" height="1.4" fill="#d0701c" stroke="#181818" stroke-width="0.7"/>
<line x1="801.50" y1="317.0" x2="801.50" y2="326.0" stroke="#101010" stroke-width="1"/>
<rect x="800.25" y="319.8" width="2.5" height="4.9" fill="#1a961a" stroke="#181818" stroke-width="0.7"/>
<line x1="804.49" y1="308.8" x2="804.49" y2="322.5" stroke="#484848" stroke-width="1"/>
<rect x="803.24" y="318.4" width="2.5" height="2.8" fill="#d0701c" stroke="#181818" stroke-width="0.7"/>
<line x1="807.48" y1="320.5" x2="807.48" y2="328.8" stroke="#101010" stroke-width="1"/>
<rect x="806.23" y="322.0" width="2.5" height="4.7" fill="#d0701c" stroke="#181818" stroke-width="0.7"/>
<line x1="810.48" y1="317.0" x2="810.48" y2="331.6" stroke="#101010" stroke-width="1"/>
<rect x="809.23" y="325.4" width="2.5" height="1.3" fill="#d0701c" stroke="#181818" stroke-width="0.7"/>
<line x1="813.47" y1="317.8" x2="813.47" y2="339.2" stroke="#101010" stroke-width="1"/>
<rect x="812.22" y="324.7" width="2.5" height="5.5" fill="#d0701c" stroke="#181818" stroke-width="0.7"/>
<line x1="816.46" y1="323.3" x2="816.46" y2="331.6" stroke="#101010" stroke-width="1"/>
<rect x="815.21" y="325.4" width="2.5" height="4.8" fill="#1a961a" stroke="#181818" stroke-width="0.7"/>
<line x1="819.45" y1="321.2" x2="819.45" y2="339.2" stroke="#101010" stroke-width="1"/>
<rect x="818.20" y="324.7" width="2.5" height="9.7" fill="#d0701c" stroke="#181818" stroke-width="0.7"/>
<line x1="822.45" y1="322.0" x2="822.45" y2="342.6" stroke="#101010" stroke-width="1"/>
<rect x="821.20" y="326.0" width="2.5" height="8.4" fill="#1a961a" stroke="#181818" stroke-width="0.7"/>
<line x1="825.44" y1="322.6" x2="825.44" y2="328.0" stroke="#101010" stroke-width="1"/>
<rect x="824.19" y="324.6" width="2.5" height="2.0" fill="#1a961a" stroke="#181818" stroke-width="0.7"/>
<line x1="828.43" y1="323.3" x2="828.43" y2="337.8" stroke="#101010" stroke-width="1"/>
<rect x="827.18" y="325.0" width="2.5" height="11.3" fill="#d0701c" stroke="#181818" stroke-width="0.7"/>
<line x1="831.42" y1="322.5" x2="831.42" y2="337.5" stroke="#101010" stroke-width="1"/>
<rect x="830.17" y="326.0" width="2.5" height="10.3" fill="#1a961a" stroke="#181818" stroke-width="0.7"/>
<line x1="834.42" y1="319.5" x2="834.42" y2="374.4" stroke="#101010" stroke-width="1"/>
<rect x="833.17" y="326.5" width="2.5" height="44.8" fill="#d0701c" stroke="#181818" stroke-width="0.7"/>
<line x1="837.41" y1="366.0" x2="837.41" y2="381.3" stroke="#101010" stroke-width="1"/>
<rect x="836.16" y="371.6" width="2.5" height="2.8" fill="#d0701c" stroke="#181818" stroke-width="0.7"/>
<line x1="840.40" y1="366.7" x2="840.40" y2="380.0" stroke="#101010" stroke-width="1"/>
<rect x="839.15" y="370.2" width="2.5" height="2.8" fill="#1a961a" stroke="#181818" stroke-width="0.7"/>
<line x1="843.39" y1="363.3" x2="843.39" y2="377.8" stroke="#101010" stroke-width="1"/>
<rect x="842.14" y="368.8" width="2.5" height="1.2" fill="#d0701c" stroke="#181818" stroke-width="0.7"/>
<line x1="846.38" y1="359.0" x2="846.38" y2="395.0" stroke="#101010" stroke-width="1"/>
<rect x="845.13" y="368.8" width="2.5" height="22.2" fill="#d0701c" stroke="#181818" stroke-width="0.7"/>
<line x1="849.38" y1="390.5" x2="849.38" y2="398.6" stroke="#101010" stroke-width="1"/>
<rect x="848.13" y="391.7" width="2.5" height="3.3" fill="#d0701c" stroke="#181818" stroke-width="0.7"/>
<line x1="852.37" y1="380.6" x2="852.37" y2="402.7" stroke="#101010" stroke-width="1"/>
<rect x="851.12" y="382.7" width="2.5" height="13.1" fill="#1a961a" stroke="#181818" stroke-width="0.7"/>
<line x1="855.36" y1="381.5" x2="855.36" y2="416.6" stroke="#101010" stroke-width="1"/>
<rect x="854.11" y="382.7" width="2.5" height="11.0" fill="#d0701c" stroke="#181818" stroke-width="0.7"/>
<line x1="858.36" y1="384.7" x2="858.36" y2="411.7" stroke="#101010" stroke-width="1"/>
<rect x="857.11" y="394.4" width="2.5" height="11.1" fill="#d0701c" stroke="#181818" stroke-width="0.7"/>
<line x1="861.35" y1="404.0" x2="861.35" y2="422.5" stroke="#101010" stroke-width="1"/>
<rect x="860.10" y="404.5" width="2.5" height="1.2" fill="#d0701c" stroke="#181818" stroke-width="0.7"/>
<line x1="864.34" y1="388.2" x2="864.34" y2="406.5" stroke="#101010" stroke-width="1"/>
<rect x="863.09" y="390.3" width="2.5" height="15.2" fill="#1a961a" stroke="#181818" stroke-width="0.7"/>
<line x1="867.33" y1="386.0" x2="867.33" y2="402.7" stroke="#101010" stroke-width="1"/>
<rect x="866.08" y="391.0" width="2.5" height="4.8" fill="#d0701c" stroke="#181818" stroke-width="0.7"/>
<line x1="870.33" y1="391.7" x2="870.33" y2="423.0" stroke="#101010" stroke-width="1"/>
<rect x="869.08" y="396.5" width="2.5" height="17.5" fill="#d0701c" stroke="#181818" stroke-width="0.7"/>
<line x1="873.32" y1="412.4" x2="873.32" y2="428.5" stroke="#101010" stroke-width="1"/>
<rect x="872.07" y="413.0" width="2.5" height="1.2" fill="#d0701c" stroke="#181818" stroke-width="0.7"/>
<line x1="876.31" y1="381.3" x2="876.31" y2="413.5" stroke="#101010" stroke-width="1"/>
<rect x="875.06" y="385.4" width="2.5" height="27.0" fill="#1a961a" stroke="#181818" stroke-width="0.7"/>
<line x1="879.30" y1="380.6" x2="879.30" y2="418.7" stroke="#101010" stroke-width="1"/>
<rect x="878.05" y="384.7" width="2.5" height="22.2" fill="#d0701c" stroke="#181818" stroke-width="0.7"/>
<line x1="882.30" y1="405.0" x2="882.30" y2="468.0" stroke="#101010" stroke-width="1"/>
<rect x="881.05" y="408.2" width="2.5" height="42.8" fill="#d0701c" stroke="#181818" stroke-width="0.7"/>
<line x1="885.29" y1="438.0" x2="885.29" y2="466.0" stroke="#101010" stroke-width="1"/>
<rect x="884.04" y="449.5" width="2.5" height="2.2" fill="#1a961a" stroke="#181818" stroke-width="0.7"/>
<line x1="888.28" y1="443.5" x2="888.28" y2="459.0" stroke="#101010" stroke-width="1"/>
<rect x="887.03" y="449.5" width="2.5" height="6.5" fill="#d0701c" stroke="#181818" stroke-width="0.7"/>
<line x1="891.27" y1="448.0" x2="891.27" y2="494.5" stroke="#484848" stroke-width="1"/>
<rect x="890.02" y="455.5" width="2.5" height="1.2" fill="#d0701c" stroke="#181818" stroke-width="0.7"/>
<line x1="894.27" y1="433.7" x2="894.27" y2="464.5" stroke="#101010" stroke-width="1"/>
<rect x="893.02" y="443.5" width="2.5" height="12.5" fill="#1a961a" stroke="#181818" stroke-width="0.7"/>
<line x1="897.26" y1="429.0" x2="897.26" y2="445.0" stroke="#101010" stroke-width="1"/>
<rect x="896.01" y="443.0" width="2.5" height="1.2" fill="#d0701c" stroke="#181818" stroke-width="0.7"/>
<line x1="900.25" y1="439.0" x2="900.25" y2="464.5" stroke="#101010" stroke-width="1"/>
<rect x="899.00" y="442.7" width="2.5" height="4.3" fill="#d0701c" stroke="#181818" stroke-width="0.7"/>
<line x1="903.24" y1="433.0" x2="903.24" y2="479.0" stroke="#101010" stroke-width="1"/>
<rect x="901.99" y="447.0" width="2.5" height="31.0" fill="#d0701c" stroke="#181818" stroke-width="0.7"/>
<line x1="906.24" y1="461.0" x2="906.24" y2="482.5" stroke="#101010" stroke-width="1"/>
<rect x="904.99" y="462.0" width="2.5" height="16.0" fill="#1a961a" stroke="#181818" stroke-width="0.7"/>
<line x1="909.23" y1="444.5" x2="909.23" y2="463.0" stroke="#101010" stroke-width="1"/>
<rect x="907.98" y="445.7" width="2.5" height="16.3" fill="#1a961a" stroke="#181818" stroke-width="0.7"/>
<line x1="912.22" y1="448.5" x2="912.22" y2="474.0" stroke="#101010" stroke-width="1"/>
<rect x="910.97" y="449.5" width="2.5" height="13.5" fill="#d0701c" stroke="#181818" stroke-width="0.7"/>
<line x1="915.21" y1="454.0" x2="915.21" y2="476.5" stroke="#101010" stroke-width="1"/>
<rect x="913.96" y="463.0" width="2.5" height="1.3" fill="#d0701c" stroke="#181818" stroke-width="0.7"/>
<line x1="918.21" y1="457.0" x2="918.21" y2="508.0" stroke="#101010" stroke-width="1"/>
<rect x="916.96" y="464.5" width="2.5" height="37.5" fill="#d0701c" stroke="#181818" stroke-width="0.7"/>
<line x1="921.20" y1="499.7" x2="921.20" y2="518.5" stroke="#101010" stroke-width="1"/>
<rect x="919.95" y="502.0" width="2.5" height="12.0" fill="#d0701c" stroke="#181818" stroke-width="0.7"/>
<line x1="924.19" y1="502.0" x2="924.19" y2="523.7" stroke="#101010" stroke-width="1"/>
<rect x="922.94" y="509.5" width="2.5" height="3.5" fill="#1a961a" stroke="#181818" stroke-width="0.7"/>
<line x1="927.18" y1="488.5" x2="927.18" y2="514.0" stroke="#101010" stroke-width="1"/>
<rect x="925.93" y="499.7" width="2.5" height="9.8" fill="#1a961a" stroke="#181818" stroke-width="0.7"/>
<line x1="930.18" y1="470.5" x2="930.18" y2="502.0" stroke="#101010" stroke-width="1"/>
<rect x="928.93" y="477.0" width="2.5" height="22.7" fill="#1a961a" stroke="#181818" stroke-width="0.7"/>
<line x1="933.17" y1="465.2" x2="933.17" y2="478.0" stroke="#101010" stroke-width="1"/>
<rect x="931.92" y="469.0" width="2.5" height="8.0" fill="#1a961a" stroke="#181818" stroke-width="0.7"/>
<line x1="936.16" y1="463.0" x2="936.16" y2="478.7" stroke="#101010" stroke-width="1"/>
<rect x="934.91" y="468.6" width="2.5" height="1.2" fill="#d0701c" stroke="#181818" stroke-width="0.7"/>
<line x1="939.15" y1="436.0" x2="939.15" y2="475.0" stroke="#101010" stroke-width="1"/>
<rect x="937.90" y="442.7" width="2.5" height="27.0" fill="#1a961a" stroke="#181818" stroke-width="0.7"/>
<line x1="942.15" y1="436.0" x2="942.15" y2="460.0" stroke="#101010" stroke-width="1"/>
<rect x="940.90" y="442.7" width="2.5" height="11.3" fill="#d0701c" stroke="#181818" stroke-width="0.7"/>
<line x1="945.14" y1="438.5" x2="945.14" y2="457.7" stroke="#101010" stroke-width="1"/>
<rect x="943.89" y="439.7" width="2.5" height="14.3" fill="#1a961a" stroke="#181818" stroke-width="0.7"/>
<line x1="948.13" y1="434.0" x2="948.13" y2="441.2" stroke="#101010" stroke-width="1"/>
<rect x="946.88" y="435.0" width="2.5" height="4.7" fill="#1a961a" stroke="#181818" stroke-width="0.7"/>
<line x1="951.12" y1="423.0" x2="951.12" y2="442.0" stroke="#101010" stroke-width="1"/>
<rect x="949.87" y="430.0" width="2.5" height="4.5" fill="#1a961a" stroke="#181818" stroke-width="0.7"/>
</g>
<g style="shape-rendering:auto" fill="none">
<clipPath id="chartclip"><rect x="2" y="2" width="1113" height="629"/></clipPath>
<g clip-path="url(#chartclip)">
<line x1="4.3" y1="90.8" x2="200.2" y2="0" stroke="#0000f0" stroke-width="2.8" stroke-linecap="round" stroke-dasharray="2.9 5"/>
<line x1="4.8" y1="338" x2="688.2" y2="0" stroke="#0000f0" stroke-width="2.8" stroke-linecap="round" stroke-dasharray="2.9 5"/>
<line x1="0" y1="254.8" x2="571.8" y2="0" stroke="#2828ff" stroke-width="1.15" stroke-dasharray="1.8 1.8"/>
<line x1="667" y1="227" x2="1098" y2="496.5" stroke="#2020ff" stroke-width="1" stroke-dasharray="9 3 2 3 2 3"/>
<line x1="105" y1="132.3" x2="1093.4" y2="293.5" stroke="#ff8800" stroke-width="2.3" stroke-linecap="round" stroke-dasharray="3.4 4.6"/>
<line x1="182" y1="333.5" x2="1092.6" y2="482" stroke="#ff8800" stroke-width="2.3" stroke-linecap="round" stroke-dasharray="3.4 4.6"/>
<line x1="105" y1="132.3" x2="1095.5" y2="493.5" stroke="#ff1010" stroke-width="2.4" stroke-linecap="round" stroke-dasharray="3.4 4.6"/>
</g></g>
<g>
<path d="M1 703 L1 675 L4 675 L4 671 L7 671 L7 667 L10 667 L10 663 L13 663 L13 703 Z" fill="#007a00"/>
<path d="M13 703 L13 663 L16 663 L16 663 L19 663 L19 703 Z" fill="#ff8000"/>
<path d="M19 703 L19 663 L22 663 L22 703 Z" fill="#007a00"/>
<path d="M22 703 L22 663 L25 663 L25 667 L28 667 L28 670 L31 670 L31 670 L34 670 L34 703 Z" fill="#ff8000"/>
<path d="M34 703 L34 669 L37 669 L37 667 L40 667 L40 703 Z" fill="#007a00"/>
<path d="M40 703 L40 668 L43 668 L43 703 Z" fill="#ff8000"/>
<path d="M43 703 L43 667 L46 667 L46 703 Z" fill="#007a00"/>
<path d="M46 703 L46 670 L49 670 L49 703 Z" fill="#ff8000"/>
<path d="M49 703 L49 669 L52 669 L52 667 L55 667 L55 666 L58 666 L58 665 L61 665 L61 703 Z" fill="#007a00"/>
<path d="M61 703 L61 670 L64 670 L64 672 L67 672 L67 674 L70 674 L70 674 L73 674 L73 703 Z" fill="#ff8000"/>
<path d="M73 703 L73 672 L76 672 L76 670 L79 670 L79 668 L82 668 L82 666 L85 666 L85 666 L88 666 L88 703 Z" fill="#007a00"/>
<path d="M88 703 L88 667 L91 667 L91 670 L94 670 L94 671 L97 671 L97 671 L100 671 L100 674 L103 674 L103 674 L106 674 L106 703 Z" fill="#ff8000"/>
<path d="M106 703 L106 674 L109 674 L109 703 Z" fill="#007a00"/>
<path d="M109 703 L109 676 L112 676 L112 681 L115 681 L115 687 L118 687 L118 693 L121 693 L121 697 L124 697 L124 699 L127 699 L127 701 L130 701 L130 705 L133 705 L133 708 L136 708 L136 710 L139 710 L139 710 L142 710 L142 710 L145 710 L145 703 Z" fill="#ff8000"/>
<path d="M145 703 L145 708 L148 708 L148 703 Z" fill="#007a00"/>
<path d="M148 703 L148 709 L151 709 L151 703 Z" fill="#ff8000"/>
<path d="M151 703 L151 709 L154 709 L154 703 Z" fill="#007a00"/>
<path d="M154 703 L154 710 L157 710 L157 712 L160 712 L160 712 L163 712 L163 703 Z" fill="#ff8000"/>
<path d="M163 703 L163 711 L166 711 L166 703 Z" fill="#007a00"/>
<path d="M166 703 L166 710 L169 710 L169 703 Z" fill="#ff8000"/>
<path d="M169 703 L169 709 L172 709 L172 708 L175 708 L175 703 Z" fill="#007a00"/>
<path d="M175 703 L175 709 L178 709 L178 711 L181 711 L181 714 L184 714 L184 715 L187 715 L187 716 L190 716 L190 716 L193 716 L193 717 L196 717 L196 703 Z" fill="#ff8000"/>
<path d="M196 703 L196 717 L199 717 L199 703 Z" fill="#007a00"/>
<path d="M199 703 L199 719 L201 719 L201 721 L204 721 L204 703 Z" fill="#ff8000"/>
<path d="M204 703 L204 718 L207 718 L207 703 Z" fill="#007a00"/>
<path d="M207 703 L207 721 L210 721 L210 725 L213 725 L213 729 L216 729 L216 729 L219 729 L219 729 L222 729 L222 729 L225 729 L225 729 L228 729 L228 703 Z" fill="#ff8000"/>
<path d="M228 703 L228 729 L231 729 L231 729 L234 729 L234 703 Z" fill="#007a00"/>
<path d="M234 703 L234 730 L237 730 L237 731 L240 731 L240 733 L243 733 L243 735 L246 735 L246 737 L249 737 L249 739 L252 739 L252 740 L255 740 L255 741 L258 741 L258 743 L261 743 L261 743 L264 743 L264 703 Z" fill="#ff8000"/>
<path d="M264 703 L264 743 L267 743 L267 740 L270 740 L270 740 L273 740 L273 740 L276 740 L276 703 Z" fill="#007a00"/>
<path d="M276 703 L276 740 L279 740 L279 741 L282 741 L282 744 L285 744 L285 744 L288 744 L288 703 Z" fill="#ff8000"/>
<path d="M288 703 L288 740 L291 740 L291 735 L294 735 L294 730 L297 730 L297 725 L300 725 L300 720 L303 720 L303 718 L306 718 L306 713 L309 713 L309 709 L312 709 L312 705 L315 705 L315 701 L318 701 L318 696 L321 696 L321 690 L324 690 L324 688 L327 688 L327 687 L330 687 L330 703 Z" fill="#007a00"/>
<path d="M330 703 L330 689 L333 689 L333 692 L336 692 L336 695 L339 695 L339 698 L342 698 L342 701 L345 701 L345 702 L348 702 L348 708 L351 708 L351 711 L354 711 L354 713 L357 713 L357 703 Z" fill="#ff8000"/>
<path d="M357 703 L357 713 L360 713 L360 703 Z" fill="#007a00"/>
<path d="M360 703 L360 712 L363 712 L363 703 Z" fill="#ff8000"/>
<path d="M363 703 L363 713 L366 713 L366 711 L369 711 L369 708 L372 708 L372 706 L375 706 L375 704 L378 704 L378 703 Z" fill="#007a00"/>
<path d="M378 703 L378 705 L381 705 L381 707 L384 707 L384 710 L387 710 L387 712 L390 712 L390 715 L393 715 L393 718 L396 718 L396 720 L399 720 L399 723 L402 723 L402 726 L405 726 L405 727 L408 727 L408 728 L411 728 L411 730 L414 730 L414 730 L417 730 L417 730 L420 730 L420 734 L423 734 L423 703 Z" fill="#ff8000"/>
<path d="M423 703 L423 732 L426 732 L426 732 L429 732 L429 730 L432 730 L432 728 L435 728 L435 703 Z" fill="#007a00"/>
<path d="M435 703 L435 730 L438 730 L438 731 L441 731 L441 733 L444 733 L444 736 L447 736 L447 739 L450 739 L450 743 L453 743 L453 745 L456 745 L456 703 Z" fill="#ff8000"/>
<path d="M456 703 L456 745 L459 745 L459 745 L462 745 L462 703 Z" fill="#007a00"/>
<path d="M462 703 L462 745 L465 745 L465 703 Z" fill="#ff8000"/>
<path d="M465 703 L465 744 L468 744 L468 743 L471 743 L471 743 L474 743 L474 703 Z" fill="#007a00"/>
<path d="M474 703 L474 744 L477 744 L477 746 L480 746 L480 746 L483 746 L483 703 Z" fill="#ff8000"/>
<path d="M483 703 L483 743 L486 743 L486 736 L489 736 L489 729 L492 729 L492 724 L495 724 L495 718 L498 718 L498 710 L501 710 L501 705 L504 705 L504 699 L507 699 L507 696 L510 696 L510 693 L513 693 L513 692 L516 692 L516 703 Z" fill="#007a00"/>
<path d="M516 703 L516 694 L519 694 L519 703 Z" fill="#ff8000"/>
<path d="M519 703 L519 692 L522 692 L522 703 Z" fill="#007a00"/>
<path d="M522 703 L522 694 L525 694 L525 697 L528 697 L528 698 L531 698 L531 699 L534 699 L534 700 L537 700 L537 701 L540 701 L540 701 L543 701 L543 702 L546 702 L546 705 L549 705 L549 703 Z" fill="#ff8000"/>
<path d="M549 703 L549 704 L552 704 L552 704 L555 704 L555 702 L558 702 L558 696 L561 696 L561 692 L564 692 L564 690 L567 690 L567 689 L570 689 L570 687 L573 687 L573 685 L576 685 L576 683 L579 683 L579 682 L582 682 L582 681 L585 681 L585 673 L588 673 L588 669 L591 669 L591 667 L594 667 L594 667 L597 667 L597 667 L600 667 L600 703 Z" fill="#007a00"/>
<path d="M600 703 L600 668 L602 668 L602 670 L605 670 L605 672 L608 672 L608 672 L611 672 L611 703 Z" fill="#ff8000"/>
<path d="M611 703 L611 671 L614 671 L614 670 L617 670 L617 665 L620 665 L620 664 L623 664 L623 662 L626 662 L626 661 L629 661 L629 660 L632 660 L632 703 Z" fill="#007a00"/>
<path d="M632 703 L632 660 L635 660 L635 662 L638 662 L638 663 L641 663 L641 665 L644 665 L644 668 L647 668 L647 671 L650 671 L650 673 L653 673 L653 676 L656 676 L656 678 L659 678 L659 680 L662 680 L662 681 L665 681 L665 683 L668 683 L668 686 L671 686 L671 689 L674 689 L674 690 L677 690 L677 692 L680 692 L680 694 L683 694 L683 707 L686 707 L686 718 L689 718 L689 729 L692 729 L692 737 L695 737 L695 741 L698 741 L698 745 L701 745 L701 749 L704 749 L704 751 L707 751 L707 751 L710 751 L710 703 Z" fill="#ff8000"/>
<path d="M710 703 L710 750 L713 750 L713 703 Z" fill="#007a00"/>
<path d="M713 703 L713 753 L716 753 L716 755 L719 755 L719 703 Z" fill="#ff8000"/>
<path d="M719 703 L719 755 L722 755 L722 752 L725 752 L725 747 L728 747 L728 741 L731 741 L731 737 L734 737 L734 732 L737 732 L737 730 L740 730 L740 703 Z" fill="#007a00"/>
<path d="M740 703 L740 732 L743 732 L743 734 L746 734 L746 703 Z" fill="#ff8000"/>
<path d="M746 703 L746 732 L749 732 L749 729 L752 729 L752 726 L755 726 L755 723 L758 723 L758 720 L761 720 L761 716 L764 716 L764 713 L767 713 L767 710 L770 710 L770 710 L773 710 L773 703 Z" fill="#007a00"/>
<path d="M773 703 L773 711 L776 711 L776 712 L779 712 L779 712 L782 712 L782 703 Z" fill="#ff8000"/>
<path d="M782 703 L782 710 L785 710 L785 703 Z" fill="#007a00"/>
<path d="M785 703 L785 710 L788 710 L788 710 L791 710 L791 710 L794 710 L794 703 Z" fill="#ff8000"/>
<path d="M794 703 L794 710 L797 710 L797 710 L800 710 L800 709 L803 709 L803 709 L806 709 L806 703 Z" fill="#007a00"/>
<path d="M806 703 L806 709 L809 709 L809 703 Z" fill="#ff8000"/>
<path d="M809 703 L809 709 L812 709 L812 703 Z" fill="#007a00"/>
<path d="M812 703 L812 709 L815 709 L815 703 Z" fill="#ff8000"/>
<path d="M815 703 L815 710 L818 710 L818 703 Z" fill="#007a00"/>
<path d="M818 703 L818 710 L821 710 L821 703 Z" fill="#ff8000"/>
<path d="M821 703 L821 710 L824 710 L824 710 L827 710 L827 703 Z" fill="#007a00"/>
<path d="M827 703 L827 710 L830 710 L830 703 Z" fill="#ff8000"/>
<path d="M830 703 L830 710 L833 710 L833 703 Z" fill="#007a00"/>
<path d="M833 703 L833 717 L836 717 L836 723 L839 723 L839 726 L842 726 L842 729 L845 729 L845 734 L848 734 L848 738 L851 738 L851 739 L854 739 L854 741 L857 741 L857 744 L860 744 L860 746 L863 746 L863 703 Z" fill="#ff8000"/>
<path d="M863 703 L863 744 L866 744 L866 743 L869 743 L869 703 Z" fill="#007a00"/>
<path d="M869 703 L869 746 L872 746 L872 747 L875 747 L875 703 Z" fill="#ff8000"/>
<path d="M875 703 L875 743 L878 743 L878 743 L881 743 L881 703 Z" fill="#007a00"/>
<path d="M881 703 L881 750 L884 750 L884 753 L887 753 L887 758 L890 758 L890 760 L893 760 L893 703 Z" fill="#ff8000"/>
<path d="M893 703 L893 758 L896 758 L896 758 L899 758 L899 757 L902 757 L902 703 Z" fill="#007a00"/>
<path d="M902 703 L902 760 L905 760 L905 703 Z" fill="#ff8000"/>
<path d="M905 703 L905 760 L908 760 L908 758 L911 758 L911 756 L914 756 L914 756 L917 756 L917 703 Z" fill="#007a00"/>
<path d="M917 703 L917 760 L920 760 L920 765 L923 765 L923 768 L926 768 L926 703 Z" fill="#ff8000"/>
<path d="M926 703 L926 768 L929 768 L929 762 L932 762 L932 758 L935 758 L935 752 L938 752 L938 743 L941 743 L941 738 L944 738 L944 730 L947 730 L947 724 L950 724 L950 717 L953 717 L953 703 Z" fill="#007a00"/>
</g>
<path d="M1.7 684.0 C4.0 682.0 4.0 682.0 8.5 678.0 C13.0 674.0 10.8 675.0 15.3 672.0 C19.8 669.0 16.9 669.8 22.0 669.0 C27.1 668.2 24.9 669.6 30.6 669.5 C36.3 669.4 32.2 668.7 39.0 668.7 C45.8 668.7 44.2 669.6 51.0 669.5 C57.8 669.4 53.8 667.8 59.5 668.4 C65.2 669.0 63.5 670.0 68.0 671.2 C72.5 672.4 68.5 672.3 73.0 672.0 C77.5 671.7 75.9 671.4 81.6 670.4 C87.3 669.4 84.3 669.0 90.0 669.0 C95.7 669.0 92.9 669.5 98.6 670.4 C104.3 671.3 101.4 669.6 107.0 671.6 C112.6 673.6 110.4 672.2 115.5 676.3 C120.6 680.4 117.2 678.3 122.3 684.0 C127.4 689.7 125.7 688.2 130.8 693.3 C135.9 698.4 133.1 696.1 137.6 699.3 C142.1 702.5 139.3 701.0 144.4 703.0 C149.5 705.0 146.8 703.3 153.0 705.2 C159.2 707.1 156.8 707.6 163.0 708.6 C169.2 709.6 166.5 708.3 171.6 708.3 C176.7 708.3 173.3 707.5 178.4 708.6 C183.5 709.7 183.1 710.2 187.0 711.5 C190.9 712.8 186.2 711.0 190.0 712.5 C193.8 714.0 192.8 714.2 198.5 715.9 C204.2 717.6 201.3 715.6 207.0 717.6 C212.7 719.6 209.8 719.4 215.5 721.8 C221.2 724.2 218.3 723.0 224.0 724.7 C229.7 726.4 226.8 725.7 232.5 727.0 C238.2 728.3 235.3 726.8 241.0 728.6 C246.7 730.4 243.8 730.0 249.5 732.5 C255.2 735.0 252.3 733.9 258.0 736.0 C263.7 738.1 260.8 737.6 266.5 738.8 C272.2 740.0 269.9 739.4 275.0 739.7 C280.1 740.0 277.3 739.4 281.8 739.7 C286.3 740.0 284.1 741.4 288.6 740.5 C293.1 739.6 290.9 740.1 295.4 737.0 C299.9 733.9 297.5 735.7 302.0 731.2 C306.5 726.7 304.4 729.2 309.0 723.5 C313.6 717.8 311.2 719.9 315.7 714.2 C320.2 708.5 318.0 711.3 322.5 706.5 C327.0 701.7 324.8 703.1 329.3 699.7 C333.8 696.3 331.4 697.4 336.0 696.3 C340.6 695.2 338.4 695.2 343.0 696.3 C347.6 697.4 345.2 696.9 349.7 699.7 C354.2 702.5 352.0 702.0 356.5 704.8 C361.0 707.6 358.8 707.1 363.3 708.2 C367.8 709.3 365.4 708.9 370.0 708.2 C374.6 707.5 372.4 706.7 377.0 706.0 C381.6 705.3 379.9 704.8 383.7 706.0 C387.5 707.2 384.1 707.2 388.5 709.5 C392.9 711.8 391.3 710.1 397.0 712.9 C402.7 715.7 399.8 714.3 405.5 718.0 C411.2 721.7 408.3 720.6 414.0 723.9 C419.7 727.2 417.4 726.1 422.5 727.8 C427.6 729.5 424.8 728.7 429.3 729.0 C433.8 729.3 430.9 727.8 436.0 728.7 C441.1 729.6 439.5 729.5 444.6 731.6 C449.7 733.7 446.9 732.5 451.4 735.0 C455.9 737.5 453.7 736.9 458.2 739.2 C462.7 741.5 460.5 740.8 465.0 741.8 C469.5 742.8 467.3 741.7 471.8 742.3 C476.3 742.9 474.1 743.4 478.6 743.5 C483.1 743.6 480.9 744.6 485.4 742.6 C489.9 740.6 487.5 742.3 492.0 737.5 C496.5 732.7 494.4 734.7 499.0 728.2 C503.6 721.7 501.2 724.5 505.7 718.0 C510.2 711.5 508.0 714.0 512.5 708.6 C517.0 703.2 514.8 705.2 519.3 701.8 C523.8 698.4 521.4 699.2 526.0 698.4 C530.6 697.6 527.9 698.6 533.0 699.3 C538.1 700.0 535.7 699.6 541.4 700.6 C547.1 701.6 545.5 701.4 550.0 702.3 C554.5 703.2 551.1 704.0 555.0 703.2 C558.9 702.4 557.8 702.2 561.8 700.0 C565.8 697.8 564.3 698.1 567.0 696.7 C569.7 695.3 566.7 697.6 570.0 695.9 C573.3 694.2 572.3 694.3 576.8 691.6 C581.3 688.9 579.1 691.7 583.6 687.7 C588.1 683.7 585.9 683.9 590.4 679.7 C594.9 675.5 592.7 677.2 597.2 675.0 C601.7 672.8 598.9 674.1 604.0 673.0 C609.1 671.9 606.8 673.1 612.5 671.8 C618.2 670.5 615.3 671.1 621.0 669.0 C626.7 666.9 623.8 667.3 629.5 665.6 C635.2 663.9 632.9 664.2 638.0 664.0 C643.1 663.8 640.3 663.4 644.8 665.0 C649.3 666.6 646.5 666.0 651.6 668.7 C656.7 671.4 653.8 669.9 660.0 673.0 C666.2 676.1 663.5 673.8 670.3 678.0 C677.1 682.2 674.9 680.0 680.5 685.7 C686.1 691.4 683.3 688.2 687.2 695.0 C691.1 701.8 688.4 697.8 692.3 706.0 C696.2 714.2 694.4 711.5 699.0 719.7 C703.6 727.9 701.4 724.2 706.0 730.7 C710.6 737.2 708.2 734.5 712.7 739.2 C717.2 743.9 715.5 742.1 719.5 744.8 C723.5 747.5 721.2 747.1 724.6 747.2 C728.0 747.3 725.7 747.7 729.7 745.2 C733.7 742.7 732.0 742.7 736.5 739.7 C741.0 736.7 738.8 738.2 743.3 736.3 C747.8 734.4 745.4 735.9 750.0 734.0 C754.6 732.1 753.7 732.5 757.0 730.7 C760.3 728.9 757.3 731.0 760.0 728.6 C762.7 726.2 761.6 726.6 765.0 723.5 C768.4 720.4 766.2 722.0 770.2 719.3 C774.2 716.6 771.9 717.5 777.0 715.5 C782.1 713.5 779.8 714.6 785.5 713.3 C791.2 712.0 787.8 712.7 794.0 711.6 C800.2 710.5 796.9 710.9 804.2 710.0 C811.5 709.1 809.2 708.9 816.0 709.0 C822.8 709.1 818.9 709.9 824.6 710.3 C830.3 710.7 827.3 708.4 833.0 710.3 C838.7 712.2 836.5 712.1 841.6 715.9 C846.7 719.7 843.9 717.6 848.4 721.8 C852.9 726.0 850.7 724.1 855.2 728.6 C859.7 733.1 857.5 732.0 862.0 735.4 C866.5 738.8 864.2 736.7 868.7 738.8 C873.2 740.9 871.5 740.7 875.5 741.7 C879.5 742.7 877.2 740.7 880.6 741.7 C884.0 742.7 881.7 741.8 885.7 744.8 C889.7 747.8 888.0 747.9 892.5 750.7 C897.0 753.5 894.8 751.9 899.3 753.3 C903.8 754.7 900.9 754.3 906.0 755.0 C911.1 755.7 909.5 754.2 914.6 755.3 C919.7 756.4 916.9 756.2 921.4 758.4 C925.9 760.6 924.8 760.8 928.2 761.8 C931.6 762.8 928.8 762.8 931.6 761.4 C934.4 760.0 933.3 760.8 936.7 757.5 C940.1 754.2 938.4 755.8 941.8 751.6 C945.2 747.4 944.0 749.2 946.9 744.8 C949.8 740.4 949.4 740.5 950.6 738.3" fill="none" stroke="#4848e8" stroke-width="1.3" stroke-linejoin="round" stroke-linecap="round" style="shape-rendering:auto"/>
<g style="shape-rendering:auto"><path d="M308.5 244.8 L311.5 235 L314.8 244.8 Z" fill="#f0e020" stroke="#e8d800" stroke-width="1"/><circle cx="311.5" cy="240" r="1.6" fill="#ff8030"/><path d="M309.5 236.5 h4" stroke="#6868ff" stroke-width="1.2"/></g>
<rect x="307.5" y="685.5" width="6" height="6" fill="#2020e0"/>
<rect x="307.5" y="706" width="6" height="6" fill="#e07020"/>
<rect x="307.5" y="719.5" width="6" height="6" fill="#2020e0"/>
<rect x="0" y="1" width="1117" height="1" fill="#000"/>
<rect x="0" y="13" width="1117" height="1" fill="#000"/>
<rect x="310" y="0" width="1" height="797" fill="#202020"/>
<rect x="0" y="631" width="1116" height="2" fill="#5a5a5a"/>
<rect x="0" y="811" width="1117" height="1" fill="#000"/>
<line x1="953" y1="702.5" x2="1110" y2="702.5" stroke="#808080" stroke-width="1" stroke-dasharray="3 3"/>
<text x="991" y="18.7" font-size="13" fill="#404040" textLength="101.5" lengthAdjust="spacingAndGlyphs" style="shape-rendering:auto">Powered by XTick</text>
<rect x="2" y="634" width="45" height="14" fill="#808080"/>
<rect x="1" y="633" width="45" height="14" fill="#ffffff" stroke="none"/>
<text x="4" y="644.5" font-size="13" fill="#000" textLength="40" lengthAdjust="spacingAndGlyphs">Volume</text>
<defs><linearGradient id="axg" x1="0" x2="1" y1="0" y2="0"><stop offset="0" stop-color="#e2d8d4"/><stop offset="0.5" stop-color="#d4cec6"/><stop offset="1" stop-color="#c6c4b6"/></linearGradient></defs>
<rect x="1116" y="0" width="58" height="812" fill="url(#axg)"/>
<rect x="1115" y="0" width="1" height="812" fill="#000"/>
<rect x="1112" y="39" width="4" height="1" fill="#000"/>
<rect x="1112" y="70" width="4" height="1" fill="#000"/>
<rect x="1112" y="101" width="4" height="1" fill="#000"/>
<rect x="1112" y="132" width="4" height="1" fill="#000"/>
<rect x="1112" y="193" width="4" height="1" fill="#000"/>
<rect x="1112" y="224" width="4" height="1" fill="#000"/>
<rect x="1112" y="255" width="4" height="1" fill="#000"/>
<rect x="1112" y="285" width="4" height="1" fill="#000"/>
<rect x="1112" y="347" width="4" height="1" fill="#000"/>
<rect x="1112" y="378" width="4" height="1" fill="#000"/>
<rect x="1112" y="408" width="4" height="1" fill="#000"/>
<rect x="1112" y="439" width="4" height="1" fill="#000"/>
<rect x="1112" y="501" width="4" height="1" fill="#000"/>
<rect x="1112" y="531" width="4" height="1" fill="#000"/>
<rect x="1112" y="562" width="4" height="1" fill="#000"/>
<rect x="1112" y="593" width="4" height="1" fill="#000"/>
<rect x="1109" y="9" width="7" height="1" fill="#000"/>
<rect x="1109" y="163" width="7" height="1" fill="#000"/>
<rect x="1109" y="316" width="7" height="1" fill="#000"/>
<rect x="1109" y="470" width="7" height="1" fill="#000"/>
<rect x="1109" y="624" width="7" height="1" fill="#000"/>
<rect x="1109" y="639" width="7" height="1" fill="#000"/>
<rect x="1112" y="645" width="4" height="1" fill="#000"/>
<rect x="1112" y="652" width="4" height="1" fill="#000"/>
<rect x="1112" y="658" width="4" height="1" fill="#000"/>
<rect x="1112" y="664" width="4" height="1" fill="#000"/>
<rect x="1109" y="671" width="7" height="1" fill="#000"/>
<rect x="1112" y="677" width="4" height="1" fill="#000"/>
<rect x="1112" y="684" width="4" height="1" fill="#000"/>
<rect x="1112" y="690" width="4" height="1" fill="#000"/>
<rect x="1112" y="696" width="4" height="1" fill="#000"/>
<rect x="1109" y="703" width="7" height="1" fill="#000"/>
<rect x="1112" y="709" width="4" height="1" fill="#000"/>
<rect x="1112" y="715" width="4" height="1" fill="#000"/>
<rect x="1112" y="722" width="4" height="1" fill="#000"/>
<rect x="1112" y="728" width="4" height="1" fill="#000"/>
<rect x="1109" y="734" width="7" height="1" fill="#000"/>
<rect x="1112" y="741" width="4" height="1" fill="#000"/>
<rect x="1112" y="747" width="4" height="1" fill="#000"/>
<rect x="1112" y="753" width="4" height="1" fill="#000"/>
<rect x="1112" y="760" width="4" height="1" fill="#000"/>
<rect x="1109" y="766" width="7" height="1" fill="#000"/>
<rect x="1112" y="773" width="4" height="1" fill="#000"/>
<rect x="1112" y="779" width="4" height="1" fill="#000"/>
<rect x="1112" y="785" width="4" height="1" fill="#000"/>
<rect x="1112" y="792" width="4" height="1" fill="#000"/>
<rect x="1109" y="798" width="7" height="1" fill="#000"/>
<text x="1170.5" y="321.3" font-size="13" fill="#000" text-anchor="end" textLength="40.6" lengthAdjust="spacingAndGlyphs">140000</text>
<text x="1170.5" y="475" font-size="13" fill="#000" text-anchor="end" textLength="40.6" lengthAdjust="spacingAndGlyphs">130000</text>
<text x="1170.5" y="629" font-size="13" fill="#000" text-anchor="end" textLength="40.6" lengthAdjust="spacingAndGlyphs">120000</text>
<text x="1170.5" y="645.5" font-size="13" fill="#000" text-anchor="end" textLength="27.1" lengthAdjust="spacingAndGlyphs">2000</text>
<text x="1170.5" y="676.5" font-size="13" fill="#000" text-anchor="end" textLength="27.1" lengthAdjust="spacingAndGlyphs">1000</text>
<text x="1170.5" y="707.5" font-size="13" fill="#000" text-anchor="end" textLength="6.8" lengthAdjust="spacingAndGlyphs">0</text>
<text x="1170.5" y="771.5" font-size="13" fill="#000" text-anchor="end" textLength="31.1" lengthAdjust="spacingAndGlyphs">-2000</text>
<text x="1170.5" y="803.5" font-size="13" fill="#000" text-anchor="end" textLength="31.1" lengthAdjust="spacingAndGlyphs">-3000</text>
<rect x="1115.5" y="6.5" width="58" height="13" fill="#fff" stroke="#000"/>
<text x="1117" y="18.5" font-size="13" fill="#000" textLength="13.5" lengthAdjust="spacingAndGlyphs">40</text>
<line x1="1135" y1="5.5" x2="1172" y2="5.5" stroke="#333" stroke-dasharray="4 2"/>
<rect x="1115.5" y="121.5" width="58" height="14" fill="#0000e0" stroke="#000" stroke-width="1"/>
<text x="1170.5" y="133.2" font-size="13" fill="#fff" text-anchor="end" textLength="40.6" lengthAdjust="spacingAndGlyphs">152240</text>
<rect x="1115.5" y="159.5" width="58" height="14" fill="#0000e0" stroke="#000" stroke-width="1"/>
<text x="1170.5" y="171.2" font-size="13" fill="#fff" text-anchor="end" textLength="40.6" lengthAdjust="spacingAndGlyphs">149792</text>
<rect x="1115.5" y="213.5" width="58" height="14" fill="#0000e0" stroke="#000" stroke-width="1"/>
<text x="1170.5" y="225.2" font-size="13" fill="#fff" text-anchor="end" textLength="40.6" lengthAdjust="spacingAndGlyphs">146290</text>
<rect x="1115.5" y="262.5" width="58" height="14" fill="#ff8000" stroke="#000" stroke-width="1"/>
<text x="1170.5" y="274.2" font-size="13" fill="#fff" text-anchor="end" textLength="40.6" lengthAdjust="spacingAndGlyphs">142947</text>
<rect x="1115.5" y="269.5" width="58" height="14" fill="#0000e0" stroke="#000" stroke-width="1"/>
<text x="1170.5" y="281.2" font-size="13" fill="#fff" text-anchor="end" textLength="40.6" lengthAdjust="spacingAndGlyphs">142646</text>
<rect x="1115.5" y="297.5" width="58" height="14" fill="#0000e0" stroke="#000" stroke-width="1"/>
<text x="1170.5" y="309.2" font-size="13" fill="#fff" text-anchor="end" textLength="40.6" lengthAdjust="spacingAndGlyphs">140722</text>
<rect x="1115.5" y="322.5" width="58" height="14" fill="#ff8040" stroke="#000" stroke-width="1"/>
<text x="1170.5" y="334.2" font-size="13" fill="#fff" text-anchor="end" textLength="40.6" lengthAdjust="spacingAndGlyphs">139215</text>
<rect x="1115.5" y="398.5" width="58" height="14" fill="#0000e0" stroke="#000" stroke-width="1"/>
<text x="1170.5" y="410.2" font-size="13" fill="#fff" text-anchor="end" textLength="40.6" lengthAdjust="spacingAndGlyphs">134162</text>
<rect x="1115.5" y="406.5" width="58" height="14" fill="#0000e0" stroke="#000" stroke-width="1"/>
<text x="1170.5" y="418.2" font-size="13" fill="#fff" text-anchor="end" textLength="40.6" lengthAdjust="spacingAndGlyphs">133701</text>
<rect x="1115.5" y="433.5" width="58" height="14" fill="#ff0000" stroke="#000" stroke-width="1"/>
<text x="1170.5" y="445.2" font-size="13" fill="#fff" text-anchor="end" textLength="40.6" lengthAdjust="spacingAndGlyphs">131923</text>
<rect x="1115.5" y="422.5" width="58" height="14" fill="#000000" stroke="#000" stroke-width="1"/>
<text x="1170.5" y="434.2" font-size="13" fill="#fff" text-anchor="end" textLength="40.6" lengthAdjust="spacingAndGlyphs">132660</text>
<rect x="1115.5" y="452.5" width="58" height="14" fill="#ff8000" stroke="#000" stroke-width="1"/>
<text x="1170.5" y="464.2" font-size="13" fill="#fff" text-anchor="end" textLength="40.6" lengthAdjust="spacingAndGlyphs">130674</text>
<rect x="1115.5" y="490.5" width="58" height="14" fill="#0000e0" stroke="#000" stroke-width="1"/>
<text x="1170.5" y="502.2" font-size="13" fill="#fff" text-anchor="end" textLength="40.6" lengthAdjust="spacingAndGlyphs">128246</text>
<rect x="1115.5" y="562.5" width="58" height="14" fill="#0000e0" stroke="#000" stroke-width="1"/>
<text x="1170.5" y="574.2" font-size="13" fill="#fff" text-anchor="end" textLength="40.6" lengthAdjust="spacingAndGlyphs">123555</text>
<rect x="1115.5" y="710.5" width="58" height="14" fill="#e00000" stroke="#000" stroke-width="1"/>
<text x="1170.5" y="722.2" font-size="13" fill="#fff" text-anchor="end" textLength="24.3" lengthAdjust="spacingAndGlyphs">-446</text>
<rect x="1115.5" y="731.5" width="58" height="14" fill="#0000e0" stroke="#000" stroke-width="1"/>
<text x="1170.5" y="743.2" font-size="13" fill="#fff" text-anchor="end" textLength="31.1" lengthAdjust="spacingAndGlyphs">-1096</text>
<text x="5.9" y="809.3" font-size="13" fill="#000" textLength="34.3" lengthAdjust="spacingAndGlyphs" style="shape-rendering:auto">окт 10</text>
<rect x="3" y="812" width="1" height="15" fill="#000"/>
<text x="5.9" y="827" font-size="13" fill="#000" textLength="30.6" lengthAdjust="spacingAndGlyphs" style="shape-rendering:auto">12:00</text>
<text x="50.9" y="809.3" font-size="13" fill="#000" textLength="34.3" lengthAdjust="spacingAndGlyphs" style="shape-rendering:auto">окт 16</text>
<rect x="48" y="812" width="1" height="15" fill="#000"/>
<text x="50.9" y="827" font-size="13" fill="#000" textLength="25" lengthAdjust="spacingAndGlyphs" style="shape-rendering:auto">8:00</text>
<text x="98.8" y="809.3" font-size="13" fill="#000" textLength="34.3" lengthAdjust="spacingAndGlyphs" style="shape-rendering:auto">окт 22</text>
<rect x="96" y="812" width="1" height="15" fill="#000"/>
<text x="98.8" y="827" font-size="13" fill="#000" textLength="25" lengthAdjust="spacingAndGlyphs" style="shape-rendering:auto">8:00</text>
<text x="146.7" y="809.3" font-size="13" fill="#000" textLength="34.3" lengthAdjust="spacingAndGlyphs" style="shape-rendering:auto">окт 28</text>
<rect x="144" y="812" width="1" height="15" fill="#000"/>
<text x="146.7" y="827" font-size="13" fill="#000" textLength="25" lengthAdjust="spacingAndGlyphs" style="shape-rendering:auto">8:00</text>
<text x="194.6" y="809.3" font-size="13" fill="#000" textLength="34.3" lengthAdjust="spacingAndGlyphs" style="shape-rendering:auto">ноя 01</text>
<rect x="192" y="812" width="1" height="15" fill="#000"/>
<text x="194.6" y="827" font-size="13" fill="#000" textLength="25" lengthAdjust="spacingAndGlyphs" style="shape-rendering:auto">8:00</text>
<text x="242.5" y="809.3" font-size="13" fill="#000" textLength="34.3" lengthAdjust="spacingAndGlyphs" style="shape-rendering:auto">ноя 08</text>
<rect x="240" y="812" width="1" height="15" fill="#000"/>
<text x="242.5" y="827" font-size="13" fill="#000" textLength="25" lengthAdjust="spacingAndGlyphs" style="shape-rendering:auto">8:00</text>
<text x="290.4" y="809.3" font-size="13" fill="#000" textLength="34.3" lengthAdjust="spacingAndGlyphs" style="shape-rendering:auto">ноя 14</text>
<rect x="288" y="812" width="1" height="15" fill="#000"/>
<text x="338.3" y="809.3" font-size="13" fill="#000" textLength="34.3" lengthAdjust="spacingAndGlyphs" style="shape-rendering:auto">ноя 20</text>
<rect x="335" y="812" width="1" height="15" fill="#000"/>
<text x="386.2" y="809.3" font-size="13" fill="#000" textLength="34.3" lengthAdjust="spacingAndGlyphs" style="shape-rendering:auto">ноя 26</text>
<rect x="383" y="812" width="1" height="15" fill="#000"/>
<text x="386.2" y="827" font-size="13" fill="#000" textLength="25" lengthAdjust="spacingAndGlyphs" style="shape-rendering:auto">8:00</text>
<text x="434.1" y="809.3" font-size="13" fill="#000" textLength="34.3" lengthAdjust="spacingAndGlyphs" style="shape-rendering:auto">дек 02</text>
<rect x="431" y="812" width="1" height="15" fill="#000"/>
<text x="434.1" y="827" font-size="13" fill="#000" textLength="25" lengthAdjust="spacingAndGlyphs" style="shape-rendering:auto">8:00</text>
<text x="482.0" y="809.3" font-size="13" fill="#000" textLength="34.3" lengthAdjust="spacingAndGlyphs" style="shape-rendering:auto">дек 06</text>
<rect x="479" y="812" width="1" height="15" fill="#000"/>
<text x="482.0" y="827" font-size="13" fill="#000" textLength="25" lengthAdjust="spacingAndGlyphs" style="shape-rendering:auto">8:00</text>
<text x="529.9" y="809.3" font-size="13" fill="#000" textLength="34.3" lengthAdjust="spacingAndGlyphs" style="shape-rendering:auto">дек 12</text>
<rect x="527" y="812" width="1" height="15" fill="#000"/>
<text x="529.9" y="827" font-size="13" fill="#000" textLength="25" lengthAdjust="spacingAndGlyphs" style="shape-rendering:auto">8:00</text>
<text x="577.8" y="809.3" font-size="13" fill="#000" textLength="34.3" lengthAdjust="spacingAndGlyphs" style="shape-rendering:auto">дек 18</text>
<rect x="575" y="812" width="1" height="15" fill="#000"/>
<text x="577.8" y="827" font-size="13" fill="#000" textLength="25" lengthAdjust="spacingAndGlyphs" style="shape-rendering:auto">8:00</text>
<text x="625.7" y="809.3" font-size="13" fill="#000" textLength="34.3" lengthAdjust="spacingAndGlyphs" style="shape-rendering:auto">дек 24</text>
<rect x="623" y="812" width="1" height="15" fill="#000"/>
<text x="625.7" y="827" font-size="13" fill="#000" textLength="25" lengthAdjust="spacingAndGlyphs" style="shape-rendering:auto">8:00</text>
<text x="673.6" y="809.3" font-size="13" fill="#000" textLength="34.3" lengthAdjust="spacingAndGlyphs" style="shape-rendering:auto">дек 30</text>
<rect x="671" y="812" width="1" height="15" fill="#000"/>
<text x="673.6" y="827" font-size="13" fill="#000" textLength="25" lengthAdjust="spacingAndGlyphs" style="shape-rendering:auto">8:00</text>
<text x="721.5" y="809.3" font-size="13" fill="#000" textLength="34.3" lengthAdjust="spacingAndGlyphs" style="shape-rendering:auto">янв 10</text>
<rect x="719" y="812" width="1" height="15" fill="#000"/>
<text x="721.5" y="827" font-size="13" fill="#000" textLength="25" lengthAdjust="spacingAndGlyphs" style="shape-rendering:auto">8:00</text>
<text x="769.4" y="809.3" font-size="13" fill="#000" textLength="34.3" lengthAdjust="spacingAndGlyphs" style="shape-rendering:auto">янв 16</text>
<rect x="766" y="812" width="1" height="15" fill="#000"/>
<text x="769.4" y="827" font-size="13" fill="#000" textLength="25" lengthAdjust="spacingAndGlyphs" style="shape-rendering:auto">8:00</text>
<text x="817.3" y="809.3" font-size="13" fill="#000" textLength="34.3" lengthAdjust="spacingAndGlyphs" style="shape-rendering:auto">янв 22</text>
<rect x="814" y="812" width="1" height="15" fill="#000"/>
<text x="817.3" y="827" font-size="13" fill="#000" textLength="25" lengthAdjust="spacingAndGlyphs" style="shape-rendering:auto">8:00</text>
<text x="865.2" y="809.3" font-size="13" fill="#000" textLength="34.3" lengthAdjust="spacingAndGlyphs" style="shape-rendering:auto">янв 28</text>
<rect x="862" y="812" width="1" height="15" fill="#000"/>
<text x="865.2" y="827" font-size="13" fill="#000" textLength="25" lengthAdjust="spacingAndGlyphs" style="shape-rendering:auto">8:00</text>
<text x="913.1" y="809.3" font-size="13" fill="#000" textLength="34.3" lengthAdjust="spacingAndGlyphs" style="shape-rendering:auto">фев 03</text>
<rect x="910" y="812" width="1" height="15" fill="#000"/>
<text x="913.1" y="827" font-size="13" fill="#000" textLength="25" lengthAdjust="spacingAndGlyphs" style="shape-rendering:auto">8:00</text>
<text x="153" y="825.5" font-size="13" fill="#000" textLength="101" lengthAdjust="spacingAndGlyphs">15.11.2013 20:00</text>
<rect x="253.5" y="812.5" width="113" height="15" fill="#fff" stroke="#000"/>
<rect x="0" y="828" width="1177" height="11" fill="#f8f8f8"/>
<rect x="1114.5" y="813.5" width="19" height="13" fill="#fff" stroke="#000"/>
<g style="shape-rendering:auto" fill="none"><rect x="1118" y="817.6" width="8" height="5" rx="2.3" stroke="#3c3c3c" stroke-width="1.5"/><rect x="1122.5" y="817.6" width="8" height="5" rx="2.3" stroke="#3c3c3c" stroke-width="1.5"/><path d="M1120.5 820.1 h7.5" stroke="#8a8a8a" stroke-width="1.6"/></g>
<rect x="1143.5" y="815" width="14" height="13" fill="#909090"/>
<rect x="1142.5" y="814" width="14" height="13" fill="#cc0010"/>
<g style="shape-rendering:auto" fill="#fff"><rect x="1144.2" y="819.5" width="4.5" height="2"/><path d="M1147.8 816.5 L1152.4 820.5 L1147.8 824.5 Z"/><rect x="1153.5" y="816.6" width="1.7" height="7.8"/></g>
<rect x="0" y="839" width="1177" height="28" fill="#3c3c3c"/>
<g style="shape-rendering:auto" font-size="12.6" fill="#dedede"><text x="10.7" y="857" textLength="59.5" lengthAdjust="spacing">Элитный</text><text x="76.6" y="857" textLength="61" lengthAdjust="spacing">Трейдер,</text><text x="142.7" y="857" textLength="115.4" lengthAdjust="spacing">ELITETRADER.RU</text></g>
<g style="shape-rendering:auto">
<path d="M1062.3 843.6 l7.4 7.6 h-3.9 v8 h-6.6 v-8 h-4.2 z" fill="url(#arg)" stroke="#4a8010" stroke-width="0.5"/>
<rect x="1052.8" y="854.6" width="8.6" height="5" rx="0.8" fill="url(#rdg)"/>
<text x="1073.5" y="858.5" font-size="17" font-weight="bold" fill="#fff" textLength="24" lengthAdjust="spacingAndGlyphs">clip</text>
<defs><linearGradient id="c2g" x1="0" x2="0" y1="0" y2="1"><stop offset="0" stop-color="#9ccc3c"/><stop offset="0.35" stop-color="#f8c030"/><stop offset="0.7" stop-color="#f78a20"/><stop offset="1" stop-color="#ee4a78"/></linearGradient><linearGradient id="arg" x1="0" x2="0" y1="0" y2="1"><stop offset="0" stop-color="#b4e040"/><stop offset="1" stop-color="#3c8c10"/></linearGradient><linearGradient id="rdg" x1="0" x2="0" y1="0" y2="1"><stop offset="0" stop-color="#f8d030"/><stop offset="1" stop-color="#e03010"/></linearGradient></defs>
<circle cx="1103.8" cy="853" r="7.6" fill="url(#c2g)"/>
<text x="1099.6" y="859" font-size="16" font-weight="bold" fill="#fff">2</text>
<text x="1111.4" y="858.5" font-size="17" font-weight="bold" fill="#fff" textLength="21.6" lengthAdjust="spacingAndGlyphs">net</text>
<text x="1133.8" y="858.5" font-size="17" font-weight="bold" fill="#8c8c8c" textLength="34.2" lengthAdjust="spacingAndGlyphs">.com</text>
</g>
</svg>
</body></html>
